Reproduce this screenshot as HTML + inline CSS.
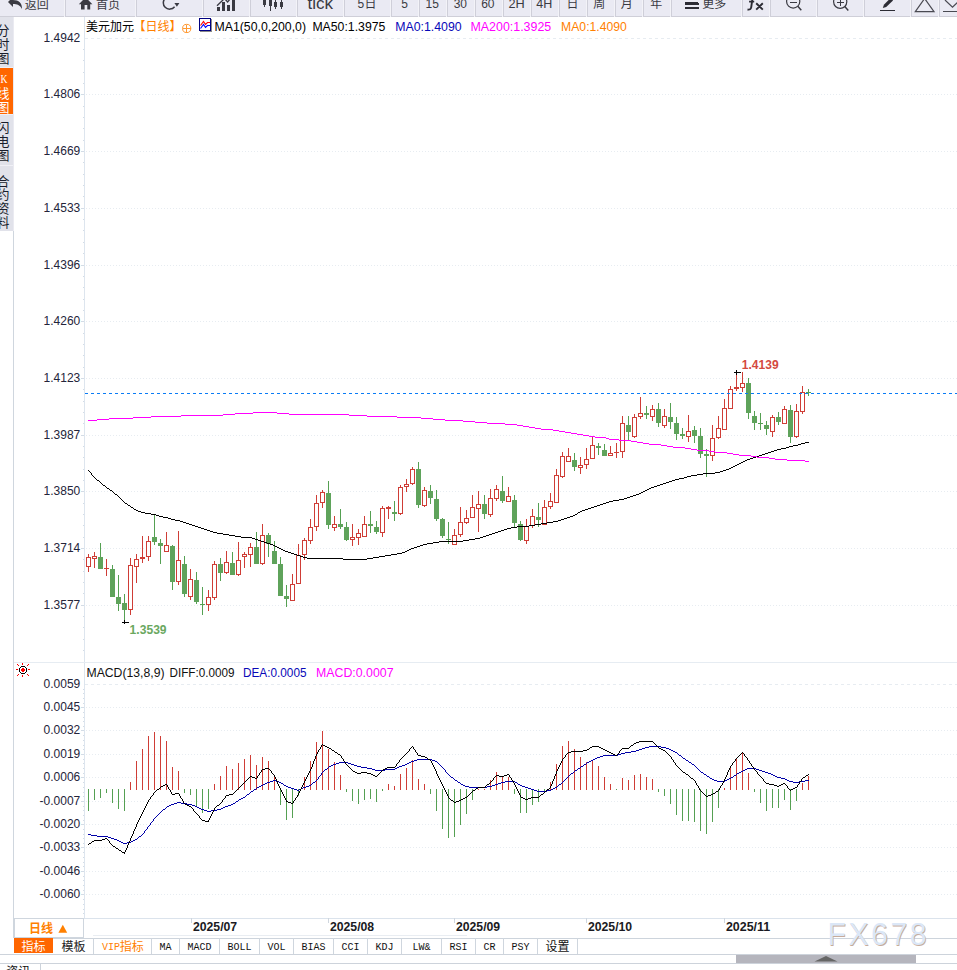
<!DOCTYPE html>
<html><head><meta charset="utf-8"><title>chart</title>
<style>
html,body{margin:0;padding:0;background:#fff;}
body{width:957px;height:970px;overflow:hidden;font-family:"Liberation Sans",sans-serif;}
svg{display:block;position:absolute;left:0;top:0;}
rect,line{shape-rendering:crispEdges;}
text{white-space:pre;}
</style></head><body>
<svg width="957" height="970" viewBox="0 0 957 970">
<rect x="13" y="16" width="1" height="922" fill="#cfd6de" />
<rect x="84" y="16" width="1" height="902" fill="#dde5ee" />
<line x1="85" x2="957" y1="38.5" y2="38.5" stroke="#e7ecf1" stroke-width="1" stroke-dasharray="3 3" stroke-dashoffset="0"/>
<line x1="85" x2="957" y1="94.5" y2="94.5" stroke="#e7ecf1" stroke-width="1" stroke-dasharray="1 2" stroke-dashoffset="2"/>
<line x1="85" x2="957" y1="151.5" y2="151.5" stroke="#e7ecf1" stroke-width="1" stroke-dasharray="1 2" stroke-dashoffset="2"/>
<line x1="85" x2="957" y1="208.5" y2="208.5" stroke="#e7ecf1" stroke-width="1" stroke-dasharray="1 2" stroke-dashoffset="2"/>
<line x1="85" x2="957" y1="265.5" y2="265.5" stroke="#e7ecf1" stroke-width="1" stroke-dasharray="1 2" stroke-dashoffset="2"/>
<line x1="85" x2="957" y1="321.5" y2="321.5" stroke="#e7ecf1" stroke-width="1" stroke-dasharray="1 2" stroke-dashoffset="2"/>
<line x1="85" x2="957" y1="378.5" y2="378.5" stroke="#e7ecf1" stroke-width="1" stroke-dasharray="1 2" stroke-dashoffset="2"/>
<line x1="85" x2="957" y1="435.5" y2="435.5" stroke="#e7ecf1" stroke-width="1" stroke-dasharray="1 2" stroke-dashoffset="2"/>
<line x1="85" x2="957" y1="491.5" y2="491.5" stroke="#e7ecf1" stroke-width="1" stroke-dasharray="1 2" stroke-dashoffset="2"/>
<line x1="85" x2="957" y1="548.5" y2="548.5" stroke="#e7ecf1" stroke-width="1" stroke-dasharray="1 2" stroke-dashoffset="2"/>
<line x1="85" x2="957" y1="605.5" y2="605.5" stroke="#e7ecf1" stroke-width="1" stroke-dasharray="1 2" stroke-dashoffset="2"/>
<rect x="83" y="49" width="1" height="1" fill="#d3dce6" />
<rect x="83" y="60" width="1" height="1" fill="#d3dce6" />
<rect x="83" y="72" width="1" height="1" fill="#d3dce6" />
<rect x="83" y="83" width="1" height="1" fill="#d3dce6" />
<rect x="81" y="94" width="3" height="1" fill="#d3dce6" />
<rect x="83" y="106" width="1" height="1" fill="#d3dce6" />
<rect x="83" y="117" width="1" height="1" fill="#d3dce6" />
<rect x="83" y="128" width="1" height="1" fill="#d3dce6" />
<rect x="83" y="140" width="1" height="1" fill="#d3dce6" />
<rect x="81" y="151" width="3" height="1" fill="#d3dce6" />
<rect x="83" y="162" width="1" height="1" fill="#d3dce6" />
<rect x="83" y="174" width="1" height="1" fill="#d3dce6" />
<rect x="83" y="185" width="1" height="1" fill="#d3dce6" />
<rect x="83" y="196" width="1" height="1" fill="#d3dce6" />
<rect x="81" y="208" width="3" height="1" fill="#d3dce6" />
<rect x="83" y="219" width="1" height="1" fill="#d3dce6" />
<rect x="83" y="230" width="1" height="1" fill="#d3dce6" />
<rect x="83" y="242" width="1" height="1" fill="#d3dce6" />
<rect x="83" y="253" width="1" height="1" fill="#d3dce6" />
<rect x="81" y="265" width="3" height="1" fill="#d3dce6" />
<rect x="83" y="276" width="1" height="1" fill="#d3dce6" />
<rect x="83" y="287" width="1" height="1" fill="#d3dce6" />
<rect x="83" y="299" width="1" height="1" fill="#d3dce6" />
<rect x="83" y="310" width="1" height="1" fill="#d3dce6" />
<rect x="81" y="321" width="3" height="1" fill="#d3dce6" />
<rect x="83" y="333" width="1" height="1" fill="#d3dce6" />
<rect x="83" y="344" width="1" height="1" fill="#d3dce6" />
<rect x="83" y="355" width="1" height="1" fill="#d3dce6" />
<rect x="83" y="367" width="1" height="1" fill="#d3dce6" />
<rect x="81" y="378" width="3" height="1" fill="#d3dce6" />
<rect x="83" y="389" width="1" height="1" fill="#d3dce6" />
<rect x="83" y="401" width="1" height="1" fill="#d3dce6" />
<rect x="83" y="412" width="1" height="1" fill="#d3dce6" />
<rect x="83" y="423" width="1" height="1" fill="#d3dce6" />
<rect x="81" y="435" width="3" height="1" fill="#d3dce6" />
<rect x="83" y="446" width="1" height="1" fill="#d3dce6" />
<rect x="83" y="457" width="1" height="1" fill="#d3dce6" />
<rect x="83" y="469" width="1" height="1" fill="#d3dce6" />
<rect x="83" y="480" width="1" height="1" fill="#d3dce6" />
<rect x="81" y="491" width="3" height="1" fill="#d3dce6" />
<rect x="83" y="503" width="1" height="1" fill="#d3dce6" />
<rect x="83" y="514" width="1" height="1" fill="#d3dce6" />
<rect x="83" y="525" width="1" height="1" fill="#d3dce6" />
<rect x="83" y="537" width="1" height="1" fill="#d3dce6" />
<rect x="81" y="548" width="3" height="1" fill="#d3dce6" />
<rect x="83" y="559" width="1" height="1" fill="#d3dce6" />
<rect x="83" y="571" width="1" height="1" fill="#d3dce6" />
<rect x="83" y="582" width="1" height="1" fill="#d3dce6" />
<rect x="83" y="593" width="1" height="1" fill="#d3dce6" />
<rect x="81" y="605" width="3" height="1" fill="#d3dce6" />
<rect x="83" y="616" width="1" height="1" fill="#d3dce6" />
<rect x="83" y="627" width="1" height="1" fill="#d3dce6" />
<rect x="83" y="639" width="1" height="1" fill="#d3dce6" />
<rect x="83" y="650" width="1" height="1" fill="#d3dce6" />
<text x="80.3" y="41.8" font-family="Liberation Sans" font-size="12" fill="#24243a" text-anchor="end" font-weight="normal" >1.4942</text>
<text x="80.3" y="97.8" font-family="Liberation Sans" font-size="12" fill="#24243a" text-anchor="end" font-weight="normal" >1.4806</text>
<text x="80.3" y="154.8" font-family="Liberation Sans" font-size="12" fill="#24243a" text-anchor="end" font-weight="normal" >1.4669</text>
<text x="80.3" y="211.8" font-family="Liberation Sans" font-size="12" fill="#24243a" text-anchor="end" font-weight="normal" >1.4533</text>
<text x="80.3" y="268.8" font-family="Liberation Sans" font-size="12" fill="#24243a" text-anchor="end" font-weight="normal" >1.4396</text>
<text x="80.3" y="324.8" font-family="Liberation Sans" font-size="12" fill="#24243a" text-anchor="end" font-weight="normal" >1.4260</text>
<text x="80.3" y="381.8" font-family="Liberation Sans" font-size="12" fill="#24243a" text-anchor="end" font-weight="normal" >1.4123</text>
<text x="80.3" y="438.8" font-family="Liberation Sans" font-size="12" fill="#24243a" text-anchor="end" font-weight="normal" >1.3987</text>
<text x="80.3" y="494.8" font-family="Liberation Sans" font-size="12" fill="#24243a" text-anchor="end" font-weight="normal" >1.3850</text>
<text x="80.3" y="551.8" font-family="Liberation Sans" font-size="12" fill="#24243a" text-anchor="end" font-weight="normal" >1.3714</text>
<text x="80.3" y="608.8" font-family="Liberation Sans" font-size="12" fill="#24243a" text-anchor="end" font-weight="normal" >1.3577</text>
<rect x="14" y="662" width="943" height="1" fill="#e6ecf2" />
<line x1="85" x2="957" y1="684.5" y2="684.5" stroke="#e7ecf1" stroke-width="1" stroke-dasharray="3 3" stroke-dashoffset="0"/>
<text x="80.3" y="687.8" font-family="Liberation Sans" font-size="12" fill="#24243a" text-anchor="end" font-weight="normal" >0.0059</text>
<line x1="85" x2="957" y1="707.5" y2="707.5" stroke="#e7ecf1" stroke-width="1" stroke-dasharray="1 2" stroke-dashoffset="2"/>
<rect x="81" y="707" width="3" height="1" fill="#d3dce6" />
<text x="80.3" y="710.8" font-family="Liberation Sans" font-size="12" fill="#24243a" text-anchor="end" font-weight="normal" >0.0045</text>
<line x1="85" x2="957" y1="730.5" y2="730.5" stroke="#e7ecf1" stroke-width="1" stroke-dasharray="1 2" stroke-dashoffset="2"/>
<rect x="81" y="730" width="3" height="1" fill="#d3dce6" />
<text x="80.3" y="733.8" font-family="Liberation Sans" font-size="12" fill="#24243a" text-anchor="end" font-weight="normal" >0.0032</text>
<line x1="85" x2="957" y1="754.5" y2="754.5" stroke="#e7ecf1" stroke-width="1" stroke-dasharray="1 2" stroke-dashoffset="2"/>
<rect x="81" y="754" width="3" height="1" fill="#d3dce6" />
<text x="80.3" y="757.8" font-family="Liberation Sans" font-size="12" fill="#24243a" text-anchor="end" font-weight="normal" >0.0019</text>
<line x1="85" x2="957" y1="777.5" y2="777.5" stroke="#e7ecf1" stroke-width="1" stroke-dasharray="1 2" stroke-dashoffset="2"/>
<rect x="81" y="777" width="3" height="1" fill="#d3dce6" />
<text x="80.3" y="780.8" font-family="Liberation Sans" font-size="12" fill="#24243a" text-anchor="end" font-weight="normal" >0.0006</text>
<line x1="85" x2="957" y1="801.5" y2="801.5" stroke="#e7ecf1" stroke-width="1" stroke-dasharray="1 2" stroke-dashoffset="2"/>
<rect x="81" y="801" width="3" height="1" fill="#d3dce6" />
<text x="80.3" y="804.8" font-family="Liberation Sans" font-size="12" fill="#24243a" text-anchor="end" font-weight="normal" >-0.0007</text>
<line x1="85" x2="957" y1="824.5" y2="824.5" stroke="#e7ecf1" stroke-width="1" stroke-dasharray="1 2" stroke-dashoffset="2"/>
<rect x="81" y="824" width="3" height="1" fill="#d3dce6" />
<text x="80.3" y="827.8" font-family="Liberation Sans" font-size="12" fill="#24243a" text-anchor="end" font-weight="normal" >-0.0020</text>
<line x1="85" x2="957" y1="847.5" y2="847.5" stroke="#e7ecf1" stroke-width="1" stroke-dasharray="1 2" stroke-dashoffset="2"/>
<rect x="81" y="847" width="3" height="1" fill="#d3dce6" />
<text x="80.3" y="850.8" font-family="Liberation Sans" font-size="12" fill="#24243a" text-anchor="end" font-weight="normal" >-0.0033</text>
<line x1="85" x2="957" y1="871.5" y2="871.5" stroke="#e7ecf1" stroke-width="1" stroke-dasharray="1 2" stroke-dashoffset="2"/>
<rect x="81" y="871" width="3" height="1" fill="#d3dce6" />
<text x="80.3" y="874.8" font-family="Liberation Sans" font-size="12" fill="#24243a" text-anchor="end" font-weight="normal" >-0.0046</text>
<line x1="85" x2="957" y1="894.5" y2="894.5" stroke="#e7ecf1" stroke-width="1" stroke-dasharray="1 2" stroke-dashoffset="2"/>
<rect x="81" y="894" width="3" height="1" fill="#d3dce6" />
<text x="80.3" y="897.8" font-family="Liberation Sans" font-size="12" fill="#24243a" text-anchor="end" font-weight="normal" >-0.0060</text>
<rect x="83" y="689" width="1" height="1" fill="#d3dce6" />
<rect x="83" y="693" width="1" height="1" fill="#d3dce6" />
<rect x="83" y="698" width="1" height="1" fill="#d3dce6" />
<rect x="83" y="703" width="1" height="1" fill="#d3dce6" />
<rect x="83" y="712" width="1" height="1" fill="#d3dce6" />
<rect x="83" y="717" width="1" height="1" fill="#d3dce6" />
<rect x="83" y="721" width="1" height="1" fill="#d3dce6" />
<rect x="83" y="726" width="1" height="1" fill="#d3dce6" />
<rect x="83" y="735" width="1" height="1" fill="#d3dce6" />
<rect x="83" y="740" width="1" height="1" fill="#d3dce6" />
<rect x="83" y="745" width="1" height="1" fill="#d3dce6" />
<rect x="83" y="749" width="1" height="1" fill="#d3dce6" />
<rect x="83" y="759" width="1" height="1" fill="#d3dce6" />
<rect x="83" y="763" width="1" height="1" fill="#d3dce6" />
<rect x="83" y="768" width="1" height="1" fill="#d3dce6" />
<rect x="83" y="773" width="1" height="1" fill="#d3dce6" />
<rect x="83" y="782" width="1" height="1" fill="#d3dce6" />
<rect x="83" y="787" width="1" height="1" fill="#d3dce6" />
<rect x="83" y="792" width="1" height="1" fill="#d3dce6" />
<rect x="83" y="796" width="1" height="1" fill="#d3dce6" />
<rect x="83" y="806" width="1" height="1" fill="#d3dce6" />
<rect x="83" y="810" width="1" height="1" fill="#d3dce6" />
<rect x="83" y="815" width="1" height="1" fill="#d3dce6" />
<rect x="83" y="820" width="1" height="1" fill="#d3dce6" />
<rect x="83" y="829" width="1" height="1" fill="#d3dce6" />
<rect x="83" y="834" width="1" height="1" fill="#d3dce6" />
<rect x="83" y="838" width="1" height="1" fill="#d3dce6" />
<rect x="83" y="843" width="1" height="1" fill="#d3dce6" />
<rect x="83" y="852" width="1" height="1" fill="#d3dce6" />
<rect x="83" y="857" width="1" height="1" fill="#d3dce6" />
<rect x="83" y="862" width="1" height="1" fill="#d3dce6" />
<rect x="83" y="866" width="1" height="1" fill="#d3dce6" />
<rect x="83" y="876" width="1" height="1" fill="#d3dce6" />
<rect x="83" y="880" width="1" height="1" fill="#d3dce6" />
<rect x="83" y="885" width="1" height="1" fill="#d3dce6" />
<rect x="83" y="890" width="1" height="1" fill="#d3dce6" />
<rect x="83" y="899" width="1" height="1" fill="#d3dce6" />
<rect x="83" y="904" width="1" height="1" fill="#d3dce6" />
<rect x="83" y="909" width="1" height="1" fill="#d3dce6" />
<rect x="83" y="913" width="1" height="1" fill="#d3dce6" />
<rect x="88" y="554" width="1" height="3" fill="#cf3d36" />
<rect x="88" y="567" width="1" height="5" fill="#cf3d36" />
<rect x="86.5" y="557.5" width="4" height="9" fill="#fff" stroke="#cf3d36" stroke-width="1"/>
<rect x="94" y="552" width="1" height="4" fill="#cf3d36" />
<rect x="94" y="559" width="1" height="9" fill="#cf3d36" />
<rect x="92.5" y="556.5" width="4" height="2" fill="#fff" stroke="#cf3d36" stroke-width="1"/>
<rect x="100" y="543" width="1" height="26" fill="#55a052" />
<rect x="98" y="557" width="5" height="12" fill="#5fa35b" />
<rect x="106" y="559" width="1" height="17" fill="#cf3d36" />
<rect x="104" y="568" width="5" height="1" fill="#cf3d36" />
<rect x="112" y="565" width="1" height="32" fill="#55a052" />
<rect x="110" y="569" width="5" height="28" fill="#5fa35b" />
<rect x="118" y="575" width="1" height="36" fill="#55a052" />
<rect x="116" y="597" width="5" height="7" fill="#5fa35b" />
<rect x="124" y="594" width="1" height="28" fill="#55a052" />
<rect x="122" y="603" width="5" height="7" fill="#5fa35b" />
<rect x="130" y="558" width="1" height="7" fill="#cf3d36" />
<rect x="130" y="610" width="1" height="5" fill="#cf3d36" />
<rect x="128.5" y="565.5" width="4" height="44" fill="#fff" stroke="#cf3d36" stroke-width="1"/>
<rect x="136" y="554" width="1" height="5" fill="#cf3d36" />
<rect x="136" y="567" width="1" height="16" fill="#cf3d36" />
<rect x="134.5" y="559.5" width="4" height="7" fill="#fff" stroke="#cf3d36" stroke-width="1"/>
<rect x="142" y="536" width="1" height="27" fill="#cf3d36" />
<rect x="140" y="557" width="5" height="2" fill="#cf3d36" />
<rect x="148" y="536" width="1" height="5" fill="#cf3d36" />
<rect x="148" y="557" width="1" height="4" fill="#cf3d36" />
<rect x="146.5" y="541.5" width="4" height="15" fill="#fff" stroke="#cf3d36" stroke-width="1"/>
<rect x="154" y="514" width="1" height="31" fill="#55a052" />
<rect x="152" y="537" width="5" height="5" fill="#5fa35b" />
<rect x="160" y="539" width="1" height="25" fill="#55a052" />
<rect x="158" y="543" width="5" height="3" fill="#5fa35b" />
<rect x="166" y="532" width="1" height="13" fill="#cf3d36" />
<rect x="164.5" y="545.5" width="4" height="6" fill="#fff" stroke="#cf3d36" stroke-width="1"/>
<rect x="172" y="545" width="1" height="45" fill="#55a052" />
<rect x="170" y="546" width="5" height="36" fill="#5fa35b" />
<rect x="178" y="531" width="1" height="29" fill="#cf3d36" />
<rect x="178" y="582" width="1" height="3" fill="#cf3d36" />
<rect x="176.5" y="560.5" width="4" height="21" fill="#fff" stroke="#cf3d36" stroke-width="1"/>
<rect x="184" y="556" width="1" height="41" fill="#55a052" />
<rect x="182" y="564" width="5" height="30" fill="#5fa35b" />
<rect x="190" y="569" width="1" height="10" fill="#cf3d36" />
<rect x="190" y="597" width="1" height="3" fill="#cf3d36" />
<rect x="188.5" y="579.5" width="4" height="17" fill="#fff" stroke="#cf3d36" stroke-width="1"/>
<rect x="196" y="572" width="1" height="32" fill="#55a052" />
<rect x="194" y="580" width="5" height="22" fill="#5fa35b" />
<rect x="202" y="587" width="1" height="28" fill="#55a052" />
<rect x="200" y="604" width="5" height="1" fill="#55a052" />
<rect x="208" y="590" width="1" height="7" fill="#cf3d36" />
<rect x="208" y="605" width="1" height="6" fill="#cf3d36" />
<rect x="206.5" y="597.5" width="4" height="7" fill="#fff" stroke="#cf3d36" stroke-width="1"/>
<rect x="214" y="561" width="1" height="3" fill="#cf3d36" />
<rect x="214" y="598" width="1" height="2" fill="#cf3d36" />
<rect x="212.5" y="564.5" width="4" height="33" fill="#fff" stroke="#cf3d36" stroke-width="1"/>
<rect x="220" y="558" width="1" height="23" fill="#55a052" />
<rect x="218" y="564" width="5" height="9" fill="#5fa35b" />
<rect x="226" y="551" width="1" height="11" fill="#cf3d36" />
<rect x="226" y="573" width="1" height="1" fill="#cf3d36" />
<rect x="224.5" y="562.5" width="4" height="10" fill="#fff" stroke="#cf3d36" stroke-width="1"/>
<rect x="232" y="552" width="1" height="23" fill="#55a052" />
<rect x="230" y="563" width="5" height="12" fill="#5fa35b" />
<rect x="238" y="542" width="1" height="18" fill="#cf3d36" />
<rect x="238" y="575" width="1" height="1" fill="#cf3d36" />
<rect x="236.5" y="560.5" width="4" height="14" fill="#fff" stroke="#cf3d36" stroke-width="1"/>
<rect x="244" y="552" width="1" height="2" fill="#cf3d36" />
<rect x="244" y="557" width="1" height="11" fill="#cf3d36" />
<rect x="242.5" y="554.5" width="4" height="2" fill="#fff" stroke="#cf3d36" stroke-width="1"/>
<rect x="250" y="543" width="1" height="4" fill="#cf3d36" />
<rect x="250" y="555" width="1" height="12" fill="#cf3d36" />
<rect x="248.5" y="547.5" width="4" height="7" fill="#fff" stroke="#cf3d36" stroke-width="1"/>
<rect x="256" y="532" width="1" height="32" fill="#55a052" />
<rect x="254" y="547" width="5" height="17" fill="#5fa35b" />
<rect x="262" y="524" width="1" height="11" fill="#cf3d36" />
<rect x="262" y="564" width="1" height="1" fill="#cf3d36" />
<rect x="260.5" y="535.5" width="4" height="28" fill="#fff" stroke="#cf3d36" stroke-width="1"/>
<rect x="268" y="533" width="1" height="24" fill="#55a052" />
<rect x="266" y="535" width="5" height="9" fill="#5fa35b" />
<rect x="274" y="541" width="1" height="23" fill="#55a052" />
<rect x="272" y="551" width="5" height="13" fill="#5fa35b" />
<rect x="280" y="557" width="1" height="39" fill="#55a052" />
<rect x="278" y="564" width="5" height="32" fill="#5fa35b" />
<rect x="286" y="585" width="1" height="22" fill="#55a052" />
<rect x="284" y="596" width="5" height="3" fill="#5fa35b" />
<rect x="292" y="574" width="1" height="10" fill="#cf3d36" />
<rect x="290.5" y="584.5" width="4" height="16" fill="#fff" stroke="#cf3d36" stroke-width="1"/>
<rect x="298" y="544" width="1" height="11" fill="#cf3d36" />
<rect x="296.5" y="555.5" width="4" height="28" fill="#fff" stroke="#cf3d36" stroke-width="1"/>
<rect x="304" y="538" width="1" height="2" fill="#cf3d36" />
<rect x="304" y="555" width="1" height="5" fill="#cf3d36" />
<rect x="302.5" y="540.5" width="4" height="14" fill="#fff" stroke="#cf3d36" stroke-width="1"/>
<rect x="310" y="519" width="1" height="8" fill="#cf3d36" />
<rect x="310" y="541" width="1" height="3" fill="#cf3d36" />
<rect x="308.5" y="527.5" width="4" height="13" fill="#fff" stroke="#cf3d36" stroke-width="1"/>
<rect x="316" y="495" width="1" height="8" fill="#cf3d36" />
<rect x="316" y="527" width="1" height="4" fill="#cf3d36" />
<rect x="314.5" y="503.5" width="4" height="23" fill="#fff" stroke="#cf3d36" stroke-width="1"/>
<rect x="322" y="490" width="1" height="2" fill="#cf3d36" />
<rect x="322" y="503" width="1" height="5" fill="#cf3d36" />
<rect x="320.5" y="492.5" width="4" height="10" fill="#fff" stroke="#cf3d36" stroke-width="1"/>
<rect x="328" y="481" width="1" height="48" fill="#55a052" />
<rect x="326" y="493" width="5" height="32" fill="#5fa35b" />
<rect x="334" y="516" width="1" height="8" fill="#cf3d36" />
<rect x="334" y="528" width="1" height="3" fill="#cf3d36" />
<rect x="332.5" y="524.5" width="4" height="3" fill="#fff" stroke="#cf3d36" stroke-width="1"/>
<rect x="340" y="509" width="1" height="20" fill="#55a052" />
<rect x="338" y="524" width="5" height="3" fill="#5fa35b" />
<rect x="346" y="522" width="1" height="19" fill="#55a052" />
<rect x="344" y="527" width="5" height="13" fill="#5fa35b" />
<rect x="352" y="524" width="1" height="13" fill="#cf3d36" />
<rect x="352" y="540" width="1" height="6" fill="#cf3d36" />
<rect x="350.5" y="537.5" width="4" height="2" fill="#fff" stroke="#cf3d36" stroke-width="1"/>
<rect x="358" y="529" width="1" height="4" fill="#cf3d36" />
<rect x="358" y="538" width="1" height="7" fill="#cf3d36" />
<rect x="356.5" y="533.5" width="4" height="4" fill="#fff" stroke="#cf3d36" stroke-width="1"/>
<rect x="364" y="516" width="1" height="8" fill="#cf3d36" />
<rect x="362.5" y="524.5" width="4" height="12" fill="#fff" stroke="#cf3d36" stroke-width="1"/>
<rect x="370" y="511" width="1" height="22" fill="#55a052" />
<rect x="368" y="524" width="5" height="2" fill="#5fa35b" />
<rect x="376" y="521" width="1" height="13" fill="#55a052" />
<rect x="374" y="527" width="5" height="5" fill="#5fa35b" />
<rect x="382" y="506" width="1" height="2" fill="#cf3d36" />
<rect x="382" y="533" width="1" height="4" fill="#cf3d36" />
<rect x="380.5" y="508.5" width="4" height="24" fill="#fff" stroke="#cf3d36" stroke-width="1"/>
<rect x="388" y="506" width="1" height="13" fill="#cf3d36" />
<rect x="386" y="507" width="5" height="2" fill="#cf3d36" />
<rect x="394" y="501" width="1" height="20" fill="#55a052" />
<rect x="392" y="512" width="5" height="2" fill="#5fa35b" />
<rect x="400" y="485" width="1" height="2" fill="#cf3d36" />
<rect x="400" y="514" width="1" height="1" fill="#cf3d36" />
<rect x="398.5" y="487.5" width="4" height="26" fill="#fff" stroke="#cf3d36" stroke-width="1"/>
<rect x="406" y="479" width="1" height="5" fill="#cf3d36" />
<rect x="406" y="487" width="1" height="5" fill="#cf3d36" />
<rect x="404.5" y="484.5" width="4" height="2" fill="#fff" stroke="#cf3d36" stroke-width="1"/>
<rect x="412" y="467" width="1" height="2" fill="#cf3d36" />
<rect x="412" y="484" width="1" height="1" fill="#cf3d36" />
<rect x="410.5" y="469.5" width="4" height="14" fill="#fff" stroke="#cf3d36" stroke-width="1"/>
<rect x="418" y="462" width="1" height="46" fill="#55a052" />
<rect x="416" y="469" width="5" height="36" fill="#5fa35b" />
<rect x="424" y="487" width="1" height="3" fill="#cf3d36" />
<rect x="424" y="506" width="1" height="1" fill="#cf3d36" />
<rect x="422.5" y="490.5" width="4" height="15" fill="#fff" stroke="#cf3d36" stroke-width="1"/>
<rect x="430" y="485" width="1" height="19" fill="#55a052" />
<rect x="428" y="491" width="5" height="7" fill="#5fa35b" />
<rect x="436" y="490" width="1" height="31" fill="#55a052" />
<rect x="434" y="499" width="5" height="20" fill="#5fa35b" />
<rect x="442" y="518" width="1" height="20" fill="#55a052" />
<rect x="440" y="519" width="5" height="17" fill="#5fa35b" />
<rect x="448" y="522" width="1" height="22" fill="#55a052" />
<rect x="446" y="539" width="5" height="1" fill="#55a052" />
<rect x="454" y="529" width="1" height="6" fill="#cf3d36" />
<rect x="452.5" y="535.5" width="4" height="9" fill="#fff" stroke="#cf3d36" stroke-width="1"/>
<rect x="460" y="507" width="1" height="15" fill="#cf3d36" />
<rect x="460" y="535" width="1" height="2" fill="#cf3d36" />
<rect x="458.5" y="522.5" width="4" height="12" fill="#fff" stroke="#cf3d36" stroke-width="1"/>
<rect x="466" y="510" width="1" height="8" fill="#cf3d36" />
<rect x="466" y="523" width="1" height="1" fill="#cf3d36" />
<rect x="464.5" y="518.5" width="4" height="4" fill="#fff" stroke="#cf3d36" stroke-width="1"/>
<rect x="472" y="495" width="1" height="12" fill="#cf3d36" />
<rect x="470.5" y="507.5" width="4" height="10" fill="#fff" stroke="#cf3d36" stroke-width="1"/>
<rect x="478" y="491" width="1" height="13" fill="#cf3d36" />
<rect x="478" y="509" width="1" height="23" fill="#cf3d36" />
<rect x="476.5" y="504.5" width="4" height="4" fill="#fff" stroke="#cf3d36" stroke-width="1"/>
<rect x="484" y="495" width="1" height="24" fill="#55a052" />
<rect x="482" y="504" width="5" height="10" fill="#5fa35b" />
<rect x="490" y="489" width="1" height="9" fill="#cf3d36" />
<rect x="490" y="515" width="1" height="2" fill="#cf3d36" />
<rect x="488.5" y="498.5" width="4" height="16" fill="#fff" stroke="#cf3d36" stroke-width="1"/>
<rect x="496" y="485" width="1" height="4" fill="#cf3d36" />
<rect x="496" y="499" width="1" height="2" fill="#cf3d36" />
<rect x="494.5" y="489.5" width="4" height="9" fill="#fff" stroke="#cf3d36" stroke-width="1"/>
<rect x="502" y="476" width="1" height="27" fill="#55a052" />
<rect x="500" y="491" width="5" height="10" fill="#5fa35b" />
<rect x="508" y="487" width="1" height="9" fill="#cf3d36" />
<rect x="506.5" y="496.5" width="4" height="5" fill="#fff" stroke="#cf3d36" stroke-width="1"/>
<rect x="514" y="495" width="1" height="32" fill="#55a052" />
<rect x="512" y="500" width="5" height="23" fill="#5fa35b" />
<rect x="520" y="521" width="1" height="20" fill="#55a052" />
<rect x="518" y="524" width="5" height="16" fill="#5fa35b" />
<rect x="526" y="519" width="1" height="7" fill="#cf3d36" />
<rect x="526" y="541" width="1" height="3" fill="#cf3d36" />
<rect x="524.5" y="526.5" width="4" height="14" fill="#fff" stroke="#cf3d36" stroke-width="1"/>
<rect x="532" y="509" width="1" height="7" fill="#cf3d36" />
<rect x="532" y="526" width="1" height="2" fill="#cf3d36" />
<rect x="530.5" y="516.5" width="4" height="9" fill="#fff" stroke="#cf3d36" stroke-width="1"/>
<rect x="538" y="503" width="1" height="24" fill="#55a052" />
<rect x="536" y="517" width="5" height="3" fill="#5fa35b" />
<rect x="544" y="500" width="1" height="7" fill="#cf3d36" />
<rect x="542.5" y="507.5" width="4" height="17" fill="#fff" stroke="#cf3d36" stroke-width="1"/>
<rect x="550" y="493" width="1" height="8" fill="#cf3d36" />
<rect x="550" y="507" width="1" height="2" fill="#cf3d36" />
<rect x="548.5" y="501.5" width="4" height="5" fill="#fff" stroke="#cf3d36" stroke-width="1"/>
<rect x="556" y="469" width="1" height="6" fill="#cf3d36" />
<rect x="554.5" y="475.5" width="4" height="27" fill="#fff" stroke="#cf3d36" stroke-width="1"/>
<rect x="562" y="452" width="1" height="4" fill="#cf3d36" />
<rect x="562" y="477" width="1" height="1" fill="#cf3d36" />
<rect x="560.5" y="456.5" width="4" height="20" fill="#fff" stroke="#cf3d36" stroke-width="1"/>
<rect x="568" y="448" width="1" height="8" fill="#cf3d36" />
<rect x="566.5" y="456.5" width="4" height="5" fill="#fff" stroke="#cf3d36" stroke-width="1"/>
<rect x="574" y="453" width="1" height="18" fill="#55a052" />
<rect x="572" y="460" width="5" height="7" fill="#5fa35b" />
<rect x="580" y="457" width="1" height="8" fill="#cf3d36" />
<rect x="580" y="468" width="1" height="6" fill="#cf3d36" />
<rect x="578.5" y="465.5" width="4" height="2" fill="#fff" stroke="#cf3d36" stroke-width="1"/>
<rect x="586" y="448" width="1" height="11" fill="#cf3d36" />
<rect x="586" y="465" width="1" height="4" fill="#cf3d36" />
<rect x="584.5" y="459.5" width="4" height="5" fill="#fff" stroke="#cf3d36" stroke-width="1"/>
<rect x="592" y="437" width="1" height="8" fill="#cf3d36" />
<rect x="590.5" y="445.5" width="4" height="13" fill="#fff" stroke="#cf3d36" stroke-width="1"/>
<rect x="598" y="443" width="1" height="12" fill="#55a052" />
<rect x="596" y="446" width="5" height="2" fill="#5fa35b" />
<rect x="604" y="444" width="1" height="12" fill="#55a052" />
<rect x="602" y="450" width="5" height="6" fill="#5fa35b" />
<rect x="610" y="446" width="1" height="7" fill="#cf3d36" />
<rect x="608.5" y="453.5" width="4" height="2" fill="#fff" stroke="#cf3d36" stroke-width="1"/>
<rect x="616" y="443" width="1" height="15" fill="#cf3d36" />
<rect x="614" y="452" width="5" height="1" fill="#cf3d36" />
<rect x="622" y="416" width="1" height="7" fill="#cf3d36" />
<rect x="622" y="452" width="1" height="6" fill="#cf3d36" />
<rect x="620.5" y="423.5" width="4" height="28" fill="#fff" stroke="#cf3d36" stroke-width="1"/>
<rect x="628" y="416" width="1" height="24" fill="#55a052" />
<rect x="626" y="425" width="5" height="7" fill="#5fa35b" />
<rect x="634" y="414" width="1" height="3" fill="#cf3d36" />
<rect x="634" y="437" width="1" height="1" fill="#cf3d36" />
<rect x="632.5" y="417.5" width="4" height="19" fill="#fff" stroke="#cf3d36" stroke-width="1"/>
<rect x="640" y="397" width="1" height="16" fill="#cf3d36" />
<rect x="640" y="417" width="1" height="2" fill="#cf3d36" />
<rect x="638.5" y="413.5" width="4" height="3" fill="#fff" stroke="#cf3d36" stroke-width="1"/>
<rect x="646" y="406" width="1" height="13" fill="#55a052" />
<rect x="644" y="413" width="5" height="2" fill="#5fa35b" />
<rect x="652" y="405" width="1" height="4" fill="#cf3d36" />
<rect x="652" y="417" width="1" height="4" fill="#cf3d36" />
<rect x="650.5" y="409.5" width="4" height="7" fill="#fff" stroke="#cf3d36" stroke-width="1"/>
<rect x="658" y="403" width="1" height="24" fill="#55a052" />
<rect x="656" y="409" width="5" height="14" fill="#5fa35b" />
<rect x="664" y="409" width="1" height="7" fill="#cf3d36" />
<rect x="664" y="426" width="1" height="2" fill="#cf3d36" />
<rect x="662.5" y="416.5" width="4" height="9" fill="#fff" stroke="#cf3d36" stroke-width="1"/>
<rect x="670" y="403" width="1" height="26" fill="#55a052" />
<rect x="668" y="417" width="5" height="5" fill="#5fa35b" />
<rect x="676" y="417" width="1" height="23" fill="#55a052" />
<rect x="674" y="423" width="5" height="11" fill="#5fa35b" />
<rect x="682" y="428" width="1" height="11" fill="#55a052" />
<rect x="680" y="434" width="5" height="2" fill="#5fa35b" />
<rect x="688" y="415" width="1" height="16" fill="#cf3d36" />
<rect x="688" y="437" width="1" height="5" fill="#cf3d36" />
<rect x="686.5" y="431.5" width="4" height="5" fill="#fff" stroke="#cf3d36" stroke-width="1"/>
<rect x="694" y="426" width="1" height="17" fill="#55a052" />
<rect x="692" y="430" width="5" height="6" fill="#5fa35b" />
<rect x="700" y="428" width="1" height="30" fill="#55a052" />
<rect x="698" y="436" width="5" height="18" fill="#5fa35b" />
<rect x="706" y="449" width="1" height="28" fill="#55a052" />
<rect x="704" y="454" width="5" height="2" fill="#5fa35b" />
<rect x="712" y="425" width="1" height="13" fill="#cf3d36" />
<rect x="712" y="456" width="1" height="5" fill="#cf3d36" />
<rect x="710.5" y="438.5" width="4" height="17" fill="#fff" stroke="#cf3d36" stroke-width="1"/>
<rect x="718" y="416" width="1" height="12" fill="#cf3d36" />
<rect x="718" y="438" width="1" height="1" fill="#cf3d36" />
<rect x="716.5" y="428.5" width="4" height="9" fill="#fff" stroke="#cf3d36" stroke-width="1"/>
<rect x="724" y="399" width="1" height="9" fill="#cf3d36" />
<rect x="722.5" y="408.5" width="4" height="21" fill="#fff" stroke="#cf3d36" stroke-width="1"/>
<rect x="730" y="386" width="1" height="3" fill="#cf3d36" />
<rect x="728.5" y="389.5" width="4" height="19" fill="#fff" stroke="#cf3d36" stroke-width="1"/>
<rect x="736" y="370" width="1" height="21" fill="#cf3d36" />
<rect x="734" y="387" width="5" height="2" fill="#cf3d36" />
<rect x="742" y="372" width="1" height="11" fill="#cf3d36" />
<rect x="742" y="388" width="1" height="4" fill="#cf3d36" />
<rect x="740.5" y="383.5" width="4" height="4" fill="#fff" stroke="#cf3d36" stroke-width="1"/>
<rect x="748" y="378" width="1" height="41" fill="#55a052" />
<rect x="746" y="383" width="5" height="30" fill="#5fa35b" />
<rect x="754" y="411" width="1" height="19" fill="#55a052" />
<rect x="752" y="416" width="5" height="7" fill="#5fa35b" />
<rect x="760" y="413" width="1" height="17" fill="#55a052" />
<rect x="758" y="423" width="5" height="1" fill="#55a052" />
<rect x="766" y="421" width="1" height="14" fill="#55a052" />
<rect x="764" y="425" width="5" height="4" fill="#5fa35b" />
<rect x="772" y="415" width="1" height="2" fill="#cf3d36" />
<rect x="772" y="432" width="1" height="5" fill="#cf3d36" />
<rect x="770.5" y="417.5" width="4" height="14" fill="#fff" stroke="#cf3d36" stroke-width="1"/>
<rect x="778" y="412" width="1" height="13" fill="#55a052" />
<rect x="776" y="417" width="5" height="5" fill="#5fa35b" />
<rect x="784" y="406" width="1" height="3" fill="#cf3d36" />
<rect x="782.5" y="409.5" width="4" height="14" fill="#fff" stroke="#cf3d36" stroke-width="1"/>
<rect x="790" y="405" width="1" height="38" fill="#55a052" />
<rect x="788" y="410" width="5" height="27" fill="#5fa35b" />
<rect x="796" y="404" width="1" height="7" fill="#cf3d36" />
<rect x="796" y="437" width="1" height="1" fill="#cf3d36" />
<rect x="794.5" y="411.5" width="4" height="25" fill="#fff" stroke="#cf3d36" stroke-width="1"/>
<rect x="802" y="386" width="1" height="6" fill="#cf3d36" />
<rect x="802" y="412" width="1" height="2" fill="#cf3d36" />
<rect x="800.5" y="392.5" width="4" height="19" fill="#fff" stroke="#cf3d36" stroke-width="1"/>
<rect x="808" y="389" width="1" height="7" fill="#55a052" />
<rect x="806" y="392" width="5" height="1" fill="#55a052" />
<path d="M805 442h4v1h-4zM801 443h4v1h-4zM798 444h3v1h-3zM793 445h5v1h-5zM789 446h4v1h-4zM786 447h3v1h-3zM781 448h5v1h-5zM777 449h4v1h-4zM774 450h3v1h-3zM771 451h3v1h-3zM768 452h3v1h-3zM765 453h3v1h-3zM762 454h3v1h-3zM759 455h3v1h-3zM756 456h3v1h-3zM753 457h3v1h-3zM750 458h3v1h-3zM747 459h3v1h-3zM745 460h2v1h-2zM743 461h2v1h-2zM741 462h2v1h-2zM739 463h2v1h-2zM737 464h2v1h-2zM735 465h2v1h-2zM733 466h2v1h-2zM731 467h2v1h-2zM729 468h2v1h-2zM726 469h3v1h-3zM88 470h1v1h-1zM723 470h3v1h-3zM89 471h1v1h-1zM720 471h3v1h-3zM90 472h1v1h-1zM715 472h5v1h-5zM91 473h1v1h-1zM703 473h12v1h-12zM91 474h1v1h-1zM697 474h6v1h-6zM92 475h1v1h-1zM691 475h6v1h-6zM93 476h1v1h-1zM687 476h4v1h-4zM94 477h1v1h-1zM684 477h3v1h-3zM95 478h1v1h-1zM679 478h5v1h-5zM96 479h1v1h-1zM675 479h4v1h-4zM97 480h2v1h-2zM672 480h3v1h-3zM99 481h1v1h-1zM669 481h3v1h-3zM100 482h1v1h-1zM666 482h3v1h-3zM101 483h1v1h-1zM663 483h3v1h-3zM102 484h1v1h-1zM660 484h3v1h-3zM103 485h2v1h-2zM657 485h3v1h-3zM105 486h1v1h-1zM654 486h3v1h-3zM106 487h1v1h-1zM651 487h3v1h-3zM107 488h2v1h-2zM649 488h2v1h-2zM109 489h1v1h-1zM647 489h2v1h-2zM110 490h2v1h-2zM645 490h2v1h-2zM112 491h1v1h-1zM643 491h2v1h-2zM113 492h1v1h-1zM641 492h2v1h-2zM114 493h1v1h-1zM639 493h2v1h-2zM115 494h2v1h-2zM636 494h3v1h-3zM117 495h1v1h-1zM633 495h3v1h-3zM118 496h1v1h-1zM630 496h3v1h-3zM119 497h1v1h-1zM627 497h3v1h-3zM120 498h1v1h-1zM624 498h3v1h-3zM121 499h1v1h-1zM619 499h5v1h-5zM122 500h1v1h-1zM613 500h6v1h-6zM123 501h1v1h-1zM609 501h4v1h-4zM124 502h1v1h-1zM606 502h3v1h-3zM125 503h2v1h-2zM603 503h3v1h-3zM127 504h1v1h-1zM600 504h3v1h-3zM128 505h2v1h-2zM597 505h3v1h-3zM130 506h1v1h-1zM594 506h3v1h-3zM131 507h2v1h-2zM591 507h3v1h-3zM133 508h1v1h-1zM588 508h3v1h-3zM134 509h2v1h-2zM585 509h3v1h-3zM136 510h2v1h-2zM582 510h3v1h-3zM138 511h3v1h-3zM580 511h2v1h-2zM141 512h4v1h-4zM578 512h2v1h-2zM145 513h6v1h-6zM577 513h1v1h-1zM151 514h5v1h-5zM575 514h2v1h-2zM156 515h3v1h-3zM573 515h2v1h-2zM159 516h4v1h-4zM570 516h3v1h-3zM163 517h5v1h-5zM567 517h3v1h-3zM168 518h3v1h-3zM564 518h3v1h-3zM171 519h4v1h-4zM561 519h3v1h-3zM175 520h5v1h-5zM558 520h3v1h-3zM180 521h3v1h-3zM553 521h5v1h-5zM183 522h3v1h-3zM547 522h6v1h-6zM186 523h3v1h-3zM541 523h6v1h-6zM189 524h3v1h-3zM535 524h6v1h-6zM192 525h3v1h-3zM529 525h6v1h-6zM195 526h3v1h-3zM517 526h12v1h-12zM198 527h3v1h-3zM511 527h6v1h-6zM201 528h3v1h-3zM507 528h4v1h-4zM204 529h3v1h-3zM504 529h3v1h-3zM207 530h3v1h-3zM501 530h3v1h-3zM210 531h3v1h-3zM498 531h3v1h-3zM213 532h4v1h-4zM495 532h3v1h-3zM217 533h6v1h-6zM492 533h3v1h-3zM223 534h6v1h-6zM489 534h3v1h-3zM229 535h6v1h-6zM486 535h3v1h-3zM235 536h6v1h-6zM483 536h3v1h-3zM241 537h11v1h-11zM480 537h3v1h-3zM252 538h3v1h-3zM475 538h5v1h-5zM255 539h3v1h-3zM469 539h6v1h-6zM258 540h3v1h-3zM463 540h6v1h-6zM261 541h3v1h-3zM439 541h24v1h-24zM264 542h3v1h-3zM433 542h6v1h-6zM267 543h3v1h-3zM427 543h6v1h-6zM270 544h3v1h-3zM423 544h4v1h-4zM273 545h2v1h-2zM420 545h3v1h-3zM275 546h2v1h-2zM417 546h3v1h-3zM277 547h2v1h-2zM414 547h3v1h-3zM279 548h2v1h-2zM411 548h3v1h-3zM281 549h2v1h-2zM409 549h2v1h-2zM283 550h2v1h-2zM407 550h2v1h-2zM285 551h3v1h-3zM405 551h2v1h-2zM288 552h3v1h-3zM402 552h3v1h-3zM291 553h3v1h-3zM397 553h5v1h-5zM294 554h3v1h-3zM391 554h6v1h-6zM297 555h3v1h-3zM385 555h6v1h-6zM300 556h3v1h-3zM379 556h6v1h-6zM303 557h4v1h-4zM373 557h6v1h-6zM307 558h36v1h-36zM367 558h6v1h-6zM343 559h24v1h-24z" fill="#000" shape-rendering="crispEdges"/>
<path d="M253 412h24v1h-24zM235 413h18v1h-18zM277 413h12v1h-12zM223 414h12v1h-12zM289 414h60v1h-60zM181 415h42v1h-42zM349 415h18v1h-18zM151 416h30v1h-30zM367 416h30v1h-30zM133 417h18v1h-18zM397 417h24v1h-24zM109 418h24v1h-24zM421 418h12v1h-12zM97 419h12v1h-12zM433 419h12v1h-12zM88 420h9v1h-9zM445 420h18v1h-18zM463 421h12v1h-12zM475 422h12v1h-12zM487 423h18v1h-18zM505 424h12v1h-12zM517 425h6v1h-6zM523 426h6v1h-6zM529 427h6v1h-6zM535 428h6v1h-6zM541 429h12v1h-12zM553 430h6v1h-6zM559 431h6v1h-6zM565 432h6v1h-6zM571 433h6v1h-6zM577 434h6v1h-6zM583 435h6v1h-6zM589 436h6v1h-6zM595 437h11v1h-11zM606 438h3v1h-3zM609 439h10v1h-10zM619 440h12v1h-12zM631 441h6v1h-6zM637 442h6v1h-6zM643 443h6v1h-6zM649 444h12v1h-12zM661 445h6v1h-6zM667 446h6v1h-6zM673 447h12v1h-12zM685 448h6v1h-6zM691 449h6v1h-6zM697 450h12v1h-12zM709 451h6v1h-6zM715 452h12v1h-12zM727 453h6v1h-6zM733 454h6v1h-6zM739 455h12v1h-12zM751 456h6v1h-6zM757 457h12v1h-12zM769 458h6v1h-6zM775 459h12v1h-12zM787 460h18v1h-18zM805 461h4v1h-4z" fill="#ff00ff" shape-rendering="crispEdges"/>
<line x1="85" x2="957" y1="393.5" y2="393.5" stroke="#0a7cf5" stroke-width="1" stroke-dasharray="3 3"/>
<rect x="734" y="372" width="7" height="1" fill="#000" />
<rect x="736" y="370" width="1" height="5" fill="#000" />
<text x="741.8" y="369" font-family="Liberation Sans" font-size="12" fill="#d4493f" text-anchor="start" font-weight="bold" textLength="36.8" lengthAdjust="spacingAndGlyphs" >1.4139</text>
<rect x="122" y="622" width="7" height="1" fill="#000" />
<rect x="124" y="620" width="1" height="4" fill="#000" />
<text x="129.6" y="633.5" font-family="Liberation Sans" font-size="12" fill="#6aa85f" text-anchor="start" font-weight="bold" textLength="37" lengthAdjust="spacingAndGlyphs" >1.3539</text>
<rect x="88" y="789" width="1" height="22" fill="#55a052" />
<rect x="94" y="789" width="1" height="11" fill="#55a052" />
<rect x="100" y="789" width="1" height="9" fill="#55a052" />
<rect x="106" y="789" width="1" height="4" fill="#55a052" />
<rect x="112" y="789" width="1" height="14" fill="#55a052" />
<rect x="118" y="789" width="1" height="20" fill="#55a052" />
<rect x="124" y="789" width="1" height="22" fill="#55a052" />
<rect x="130" y="782" width="1" height="8" fill="#cf3d36" />
<rect x="136" y="761" width="1" height="29" fill="#cf3d36" />
<rect x="142" y="749" width="1" height="41" fill="#cf3d36" />
<rect x="148" y="736" width="1" height="54" fill="#cf3d36" />
<rect x="154" y="732" width="1" height="58" fill="#cf3d36" />
<rect x="160" y="736" width="1" height="54" fill="#cf3d36" />
<rect x="166" y="741" width="1" height="49" fill="#cf3d36" />
<rect x="172" y="767" width="1" height="23" fill="#cf3d36" />
<rect x="178" y="771" width="1" height="19" fill="#cf3d36" />
<rect x="184" y="789" width="1" height="4" fill="#55a052" />
<rect x="190" y="789" width="1" height="6" fill="#55a052" />
<rect x="196" y="789" width="1" height="18" fill="#55a052" />
<rect x="202" y="789" width="1" height="24" fill="#55a052" />
<rect x="208" y="789" width="1" height="20" fill="#55a052" />
<rect x="214" y="784" width="1" height="6" fill="#cf3d36" />
<rect x="220" y="776" width="1" height="14" fill="#cf3d36" />
<rect x="226" y="766" width="1" height="24" fill="#cf3d36" />
<rect x="232" y="769" width="1" height="21" fill="#cf3d36" />
<rect x="238" y="763" width="1" height="27" fill="#cf3d36" />
<rect x="244" y="759" width="1" height="31" fill="#cf3d36" />
<rect x="250" y="755" width="1" height="35" fill="#cf3d36" />
<rect x="256" y="765" width="1" height="25" fill="#cf3d36" />
<rect x="262" y="757" width="1" height="33" fill="#cf3d36" />
<rect x="268" y="761" width="1" height="29" fill="#cf3d36" />
<rect x="274" y="776" width="1" height="14" fill="#cf3d36" />
<rect x="280" y="789" width="1" height="16" fill="#55a052" />
<rect x="286" y="789" width="1" height="31" fill="#55a052" />
<rect x="292" y="789" width="1" height="29" fill="#55a052" />
<rect x="298" y="789" width="1" height="7" fill="#55a052" />
<rect x="304" y="777" width="1" height="13" fill="#cf3d36" />
<rect x="310" y="761" width="1" height="29" fill="#cf3d36" />
<rect x="316" y="742" width="1" height="48" fill="#cf3d36" />
<rect x="322" y="731" width="1" height="59" fill="#cf3d36" />
<rect x="328" y="749" width="1" height="41" fill="#cf3d36" />
<rect x="334" y="762" width="1" height="28" fill="#cf3d36" />
<rect x="340" y="775" width="1" height="15" fill="#cf3d36" />
<rect x="346" y="789" width="1" height="3" fill="#55a052" />
<rect x="352" y="789" width="1" height="12" fill="#55a052" />
<rect x="358" y="789" width="1" height="15" fill="#55a052" />
<rect x="364" y="789" width="1" height="11" fill="#55a052" />
<rect x="370" y="789" width="1" height="10" fill="#55a052" />
<rect x="376" y="789" width="1" height="13" fill="#55a052" />
<rect x="382" y="789" width="1" height="2" fill="#55a052" />
<rect x="388" y="784" width="1" height="6" fill="#cf3d36" />
<rect x="394" y="786" width="1" height="4" fill="#cf3d36" />
<rect x="400" y="774" width="1" height="16" fill="#cf3d36" />
<rect x="406" y="768" width="1" height="22" fill="#cf3d36" />
<rect x="412" y="760" width="1" height="30" fill="#cf3d36" />
<rect x="418" y="779" width="1" height="11" fill="#cf3d36" />
<rect x="424" y="784" width="1" height="6" fill="#cf3d36" />
<rect x="430" y="789" width="1" height="5" fill="#55a052" />
<rect x="436" y="789" width="1" height="22" fill="#55a052" />
<rect x="442" y="789" width="1" height="40" fill="#55a052" />
<rect x="448" y="789" width="1" height="49" fill="#55a052" />
<rect x="454" y="789" width="1" height="48" fill="#55a052" />
<rect x="460" y="789" width="1" height="36" fill="#55a052" />
<rect x="466" y="789" width="1" height="25" fill="#55a052" />
<rect x="472" y="789" width="1" height="11" fill="#55a052" />
<rect x="478" y="789" width="1" height="1" fill="#cf3d36" />
<rect x="484" y="789" width="1" height="1" fill="#cf3d36" />
<rect x="490" y="780" width="1" height="10" fill="#cf3d36" />
<rect x="496" y="772" width="1" height="18" fill="#cf3d36" />
<rect x="502" y="776" width="1" height="14" fill="#cf3d36" />
<rect x="508" y="777" width="1" height="13" fill="#cf3d36" />
<rect x="514" y="789" width="1" height="5" fill="#55a052" />
<rect x="520" y="789" width="1" height="24" fill="#55a052" />
<rect x="526" y="789" width="1" height="24" fill="#55a052" />
<rect x="532" y="789" width="1" height="16" fill="#55a052" />
<rect x="538" y="789" width="1" height="13" fill="#55a052" />
<rect x="544" y="789" width="1" height="3" fill="#55a052" />
<rect x="550" y="782" width="1" height="8" fill="#cf3d36" />
<rect x="556" y="764" width="1" height="26" fill="#cf3d36" />
<rect x="562" y="746" width="1" height="44" fill="#cf3d36" />
<rect x="568" y="741" width="1" height="49" fill="#cf3d36" />
<rect x="574" y="749" width="1" height="41" fill="#cf3d36" />
<rect x="580" y="757" width="1" height="33" fill="#cf3d36" />
<rect x="586" y="762" width="1" height="28" fill="#cf3d36" />
<rect x="592" y="761" width="1" height="29" fill="#cf3d36" />
<rect x="598" y="766" width="1" height="24" fill="#cf3d36" />
<rect x="604" y="777" width="1" height="13" fill="#cf3d36" />
<rect x="610" y="784" width="1" height="6" fill="#cf3d36" />
<rect x="616" y="789" width="1" height="1" fill="#55a052" />
<rect x="622" y="778" width="1" height="12" fill="#cf3d36" />
<rect x="628" y="780" width="1" height="10" fill="#cf3d36" />
<rect x="634" y="775" width="1" height="15" fill="#cf3d36" />
<rect x="640" y="774" width="1" height="16" fill="#cf3d36" />
<rect x="646" y="777" width="1" height="13" fill="#cf3d36" />
<rect x="652" y="779" width="1" height="11" fill="#cf3d36" />
<rect x="658" y="789" width="1" height="3" fill="#55a052" />
<rect x="664" y="789" width="1" height="7" fill="#55a052" />
<rect x="670" y="789" width="1" height="15" fill="#55a052" />
<rect x="676" y="789" width="1" height="26" fill="#55a052" />
<rect x="682" y="789" width="1" height="32" fill="#55a052" />
<rect x="688" y="789" width="1" height="32" fill="#55a052" />
<rect x="694" y="789" width="1" height="33" fill="#55a052" />
<rect x="700" y="789" width="1" height="42" fill="#55a052" />
<rect x="706" y="789" width="1" height="45" fill="#55a052" />
<rect x="712" y="789" width="1" height="33" fill="#55a052" />
<rect x="718" y="789" width="1" height="19" fill="#55a052" />
<rect x="724" y="788" width="1" height="2" fill="#cf3d36" />
<rect x="730" y="768" width="1" height="22" fill="#cf3d36" />
<rect x="736" y="758" width="1" height="32" fill="#cf3d36" />
<rect x="742" y="753" width="1" height="37" fill="#cf3d36" />
<rect x="748" y="773" width="1" height="17" fill="#cf3d36" />
<rect x="754" y="789" width="1" height="3" fill="#55a052" />
<rect x="760" y="789" width="1" height="14" fill="#55a052" />
<rect x="766" y="789" width="1" height="22" fill="#55a052" />
<rect x="772" y="789" width="1" height="19" fill="#55a052" />
<rect x="778" y="789" width="1" height="19" fill="#55a052" />
<rect x="784" y="789" width="1" height="11" fill="#55a052" />
<rect x="790" y="789" width="1" height="21" fill="#55a052" />
<rect x="796" y="789" width="1" height="12" fill="#55a052" />
<rect x="802" y="783" width="1" height="7" fill="#cf3d36" />
<rect x="808" y="776" width="1" height="14" fill="#cf3d36" />
<path d="M649 746h12v1h-12zM645 747h4v1h-4zM661 747h5v1h-5zM642 748h3v1h-3zM666 748h3v1h-3zM639 749h3v1h-3zM669 749h2v1h-2zM636 750h3v1h-3zM671 750h2v1h-2zM631 751h5v1h-5zM673 751h2v1h-2zM625 752h6v1h-6zM675 752h2v1h-2zM621 753h4v1h-4zM677 753h1v1h-1zM618 754h3v1h-3zM678 754h1v1h-1zM603 755h15v1h-15zM679 755h2v1h-2zM600 756h3v1h-3zM681 756h1v1h-1zM597 757h3v1h-3zM682 757h1v1h-1zM595 758h2v1h-2zM683 758h2v1h-2zM417 759h15v1h-15zM593 759h2v1h-2zM685 759h1v1h-1zM414 760h3v1h-3zM432 760h3v1h-3zM591 760h2v1h-2zM686 760h2v1h-2zM411 761h3v1h-3zM435 761h2v1h-2zM589 761h2v1h-2zM688 761h1v1h-1zM339 762h9v1h-9zM409 762h2v1h-2zM437 762h1v1h-1zM587 762h2v1h-2zM689 762h2v1h-2zM336 763h3v1h-3zM348 763h3v1h-3zM407 763h2v1h-2zM438 763h1v1h-1zM586 763h1v1h-1zM691 763h1v1h-1zM333 764h3v1h-3zM351 764h3v1h-3zM405 764h2v1h-2zM439 764h1v1h-1zM584 764h2v1h-2zM692 764h2v1h-2zM331 765h2v1h-2zM354 765h3v1h-3zM402 765h3v1h-3zM440 765h1v1h-1zM583 765h1v1h-1zM694 765h1v1h-1zM329 766h2v1h-2zM357 766h4v1h-4zM399 766h3v1h-3zM441 766h1v1h-1zM581 766h2v1h-2zM695 766h1v1h-1zM328 767h1v1h-1zM361 767h6v1h-6zM397 767h2v1h-2zM442 767h1v1h-1zM580 767h1v1h-1zM696 767h1v1h-1zM327 768h1v1h-1zM367 768h5v1h-5zM395 768h2v1h-2zM443 768h1v1h-1zM578 768h2v1h-2zM697 768h1v1h-1zM747 768h9v1h-9zM325 769h2v1h-2zM372 769h3v1h-3zM385 769h10v1h-10zM444 769h1v1h-1zM577 769h1v1h-1zM698 769h1v1h-1zM745 769h2v1h-2zM756 769h3v1h-3zM324 770h1v1h-1zM375 770h10v1h-10zM445 770h1v1h-1zM575 770h2v1h-2zM699 770h1v1h-1zM743 770h2v1h-2zM759 770h3v1h-3zM323 771h1v1h-1zM445 771h1v1h-1zM574 771h1v1h-1zM700 771h1v1h-1zM741 771h2v1h-2zM762 771h3v1h-3zM322 772h1v1h-1zM446 772h1v1h-1zM573 772h1v1h-1zM701 772h2v1h-2zM739 772h2v1h-2zM765 772h3v1h-3zM321 773h1v1h-1zM447 773h1v1h-1zM571 773h2v1h-2zM703 773h1v1h-1zM737 773h2v1h-2zM768 773h3v1h-3zM321 774h1v1h-1zM448 774h1v1h-1zM570 774h1v1h-1zM704 774h2v1h-2zM736 774h1v1h-1zM771 774h2v1h-2zM320 775h1v1h-1zM449 775h1v1h-1zM569 775h1v1h-1zM706 775h1v1h-1zM734 775h2v1h-2zM773 775h2v1h-2zM319 776h1v1h-1zM450 776h1v1h-1zM568 776h1v1h-1zM707 776h2v1h-2zM733 776h1v1h-1zM775 776h2v1h-2zM318 777h1v1h-1zM451 777h2v1h-2zM567 777h1v1h-1zM709 777h1v1h-1zM731 777h2v1h-2zM777 777h4v1h-4zM318 778h1v1h-1zM453 778h1v1h-1zM566 778h1v1h-1zM710 778h2v1h-2zM729 778h2v1h-2zM781 778h4v1h-4zM317 779h1v1h-1zM454 779h1v1h-1zM565 779h1v1h-1zM712 779h2v1h-2zM727 779h2v1h-2zM785 779h2v1h-2zM273 780h3v1h-3zM316 780h1v1h-1zM455 780h2v1h-2zM564 780h1v1h-1zM714 780h3v1h-3zM725 780h2v1h-2zM787 780h2v1h-2zM805 780h4v1h-4zM270 781h3v1h-3zM276 781h3v1h-3zM315 781h1v1h-1zM457 781h1v1h-1zM505 781h10v1h-10zM563 781h1v1h-1zM717 781h8v1h-8zM789 781h4v1h-4zM799 781h6v1h-6zM267 782h3v1h-3zM279 782h2v1h-2zM313 782h2v1h-2zM458 782h2v1h-2zM501 782h4v1h-4zM515 782h2v1h-2zM562 782h1v1h-1zM793 782h6v1h-6zM265 783h2v1h-2zM281 783h2v1h-2zM312 783h1v1h-1zM460 783h1v1h-1zM498 783h3v1h-3zM517 783h1v1h-1zM561 783h1v1h-1zM263 784h2v1h-2zM283 784h1v1h-1zM311 784h1v1h-1zM461 784h2v1h-2zM495 784h3v1h-3zM518 784h2v1h-2zM559 784h2v1h-2zM261 785h2v1h-2zM284 785h2v1h-2zM309 785h2v1h-2zM463 785h2v1h-2zM492 785h3v1h-3zM520 785h2v1h-2zM558 785h1v1h-1zM259 786h2v1h-2zM286 786h2v1h-2zM306 786h3v1h-3zM465 786h4v1h-4zM487 786h5v1h-5zM522 786h3v1h-3zM557 786h1v1h-1zM257 787h2v1h-2zM288 787h3v1h-3zM303 787h3v1h-3zM469 787h18v1h-18zM525 787h3v1h-3zM555 787h2v1h-2zM256 788h1v1h-1zM291 788h3v1h-3zM301 788h2v1h-2zM528 788h3v1h-3zM553 788h2v1h-2zM254 789h2v1h-2zM294 789h3v1h-3zM299 789h2v1h-2zM531 789h3v1h-3zM551 789h2v1h-2zM253 790h1v1h-1zM297 790h2v1h-2zM534 790h3v1h-3zM547 790h4v1h-4zM251 791h2v1h-2zM537 791h10v1h-10zM250 792h1v1h-1zM249 793h1v1h-1zM247 794h2v1h-2zM246 795h1v1h-1zM245 796h1v1h-1zM243 797h2v1h-2zM241 798h2v1h-2zM239 799h2v1h-2zM238 800h1v1h-1zM236 801h2v1h-2zM177 802h4v1h-4zM235 802h1v1h-1zM174 803h3v1h-3zM181 803h6v1h-6zM233 803h2v1h-2zM171 804h3v1h-3zM187 804h5v1h-5zM231 804h2v1h-2zM169 805h2v1h-2zM192 805h3v1h-3zM228 805h3v1h-3zM167 806h2v1h-2zM195 806h2v1h-2zM225 806h3v1h-3zM166 807h1v1h-1zM197 807h2v1h-2zM223 807h2v1h-2zM165 808h1v1h-1zM199 808h2v1h-2zM221 808h2v1h-2zM163 809h2v1h-2zM201 809h3v1h-3zM217 809h4v1h-4zM162 810h1v1h-1zM204 810h3v1h-3zM211 810h6v1h-6zM161 811h1v1h-1zM207 811h4v1h-4zM160 812h1v1h-1zM159 813h1v1h-1zM158 814h1v1h-1zM157 815h1v1h-1zM156 816h1v1h-1zM155 817h1v1h-1zM154 818h1v1h-1zM153 819h1v1h-1zM153 820h1v1h-1zM152 821h1v1h-1zM151 822h1v1h-1zM150 823h1v1h-1zM150 824h1v1h-1zM149 825h1v1h-1zM148 826h1v1h-1zM147 827h1v1h-1zM147 828h1v1h-1zM146 829h1v1h-1zM145 830h1v1h-1zM144 831h1v1h-1zM144 832h1v1h-1zM143 833h1v1h-1zM88 834h3v1h-3zM142 834h1v1h-1zM91 835h6v1h-6zM141 835h1v1h-1zM97 836h11v1h-11zM139 836h2v1h-2zM108 837h3v1h-3zM138 837h1v1h-1zM111 838h3v1h-3zM137 838h1v1h-1zM114 839h3v1h-3zM135 839h2v1h-2zM117 840h2v1h-2zM133 840h2v1h-2zM119 841h2v1h-2zM131 841h2v1h-2zM121 842h2v1h-2zM127 842h4v1h-4zM123 843h4v1h-4z" fill="#0000a8" shape-rendering="crispEdges"/>
<path d="M639 741h14v1h-14zM636 742h3v1h-3zM653 742h1v1h-1zM634 743h2v1h-2zM654 743h1v1h-1zM322 744h1v1h-1zM633 744h1v1h-1zM655 744h1v1h-1zM321 745h1v1h-1zM323 745h2v1h-2zM631 745h2v1h-2zM656 745h1v1h-1zM321 746h1v1h-1zM325 746h2v1h-2zM412 746h1v1h-1zM592 746h7v1h-7zM630 746h1v1h-1zM657 746h1v1h-1zM320 747h1v1h-1zM327 747h2v1h-2zM411 747h1v1h-1zM413 747h1v1h-1zM590 747h2v1h-2zM599 747h2v1h-2zM629 747h1v1h-1zM658 747h1v1h-1zM320 748h1v1h-1zM329 748h2v1h-2zM410 748h1v1h-1zM413 748h1v1h-1zM589 748h1v1h-1zM601 748h2v1h-2zM622 748h7v1h-7zM659 748h2v1h-2zM319 749h1v1h-1zM331 749h1v1h-1zM409 749h1v1h-1zM414 749h1v1h-1zM587 749h2v1h-2zM603 749h2v1h-2zM621 749h1v1h-1zM661 749h2v1h-2zM318 750h1v1h-1zM332 750h2v1h-2zM409 750h1v1h-1zM415 750h1v1h-1zM583 750h4v1h-4zM605 750h2v1h-2zM620 750h1v1h-1zM663 750h2v1h-2zM318 751h1v1h-1zM334 751h1v1h-1zM408 751h1v1h-1zM415 751h1v1h-1zM571 751h12v1h-12zM607 751h2v1h-2zM619 751h1v1h-1zM665 751h1v1h-1zM317 752h1v1h-1zM335 752h2v1h-2zM407 752h1v1h-1zM416 752h1v1h-1zM568 752h3v1h-3zM609 752h2v1h-2zM619 752h1v1h-1zM666 752h1v1h-1zM742 752h1v1h-1zM317 753h1v1h-1zM337 753h1v1h-1zM406 753h1v1h-1zM417 753h1v1h-1zM567 753h1v1h-1zM611 753h2v1h-2zM618 753h1v1h-1zM667 753h1v1h-1zM741 753h1v1h-1zM743 753h1v1h-1zM316 754h1v1h-1zM338 754h2v1h-2zM405 754h1v1h-1zM417 754h1v1h-1zM566 754h1v1h-1zM613 754h2v1h-2zM617 754h1v1h-1zM668 754h1v1h-1zM740 754h1v1h-1zM744 754h1v1h-1zM316 755h1v1h-1zM340 755h1v1h-1zM404 755h1v1h-1zM418 755h3v1h-3zM565 755h1v1h-1zM615 755h2v1h-2zM669 755h1v1h-1zM739 755h1v1h-1zM744 755h1v1h-1zM315 756h1v1h-1zM341 756h1v1h-1zM403 756h1v1h-1zM421 756h4v1h-4zM565 756h1v1h-1zM670 756h1v1h-1zM738 756h1v1h-1zM745 756h1v1h-1zM315 757h1v1h-1zM341 757h1v1h-1zM402 757h1v1h-1zM425 757h2v1h-2zM564 757h1v1h-1zM671 757h1v1h-1zM737 757h1v1h-1zM746 757h1v1h-1zM315 758h1v1h-1zM342 758h1v1h-1zM401 758h1v1h-1zM427 758h1v1h-1zM563 758h1v1h-1zM671 758h1v1h-1zM736 758h1v1h-1zM747 758h1v1h-1zM314 759h1v1h-1zM343 759h1v1h-1zM400 759h1v1h-1zM428 759h2v1h-2zM562 759h1v1h-1zM672 759h1v1h-1zM735 759h1v1h-1zM747 759h1v1h-1zM314 760h1v1h-1zM343 760h1v1h-1zM399 760h1v1h-1zM430 760h1v1h-1zM562 760h1v1h-1zM673 760h1v1h-1zM735 760h1v1h-1zM748 760h1v1h-1zM313 761h1v1h-1zM344 761h1v1h-1zM399 761h1v1h-1zM431 761h1v1h-1zM561 761h1v1h-1zM673 761h1v1h-1zM734 761h1v1h-1zM749 761h1v1h-1zM313 762h1v1h-1zM345 762h1v1h-1zM398 762h1v1h-1zM431 762h1v1h-1zM561 762h1v1h-1zM674 762h1v1h-1zM733 762h1v1h-1zM749 762h1v1h-1zM313 763h1v1h-1zM345 763h1v1h-1zM397 763h1v1h-1zM432 763h1v1h-1zM560 763h1v1h-1zM675 763h1v1h-1zM732 763h1v1h-1zM750 763h1v1h-1zM312 764h1v1h-1zM346 764h1v1h-1zM396 764h1v1h-1zM432 764h1v1h-1zM560 764h1v1h-1zM675 764h1v1h-1zM732 764h1v1h-1zM751 764h1v1h-1zM312 765h1v1h-1zM347 765h1v1h-1zM396 765h1v1h-1zM433 765h1v1h-1zM559 765h1v1h-1zM676 765h1v1h-1zM731 765h1v1h-1zM751 765h1v1h-1zM312 766h1v1h-1zM348 766h1v1h-1zM395 766h1v1h-1zM433 766h1v1h-1zM559 766h1v1h-1zM677 766h1v1h-1zM730 766h1v1h-1zM752 766h1v1h-1zM311 767h1v1h-1zM349 767h1v1h-1zM387 767h8v1h-8zM434 767h1v1h-1zM558 767h1v1h-1zM678 767h1v1h-1zM730 767h1v1h-1zM753 767h1v1h-1zM265 768h4v1h-4zM311 768h1v1h-1zM350 768h1v1h-1zM385 768h2v1h-2zM434 768h1v1h-1zM558 768h1v1h-1zM679 768h1v1h-1zM729 768h1v1h-1zM753 768h1v1h-1zM262 769h3v1h-3zM269 769h1v1h-1zM310 769h1v1h-1zM351 769h1v1h-1zM383 769h2v1h-2zM435 769h1v1h-1zM557 769h1v1h-1zM680 769h1v1h-1zM729 769h1v1h-1zM754 769h1v1h-1zM261 770h1v1h-1zM270 770h1v1h-1zM310 770h1v1h-1zM352 770h1v1h-1zM382 770h1v1h-1zM435 770h1v1h-1zM557 770h1v1h-1zM681 770h1v1h-1zM728 770h1v1h-1zM755 770h1v1h-1zM261 771h1v1h-1zM271 771h1v1h-1zM309 771h1v1h-1zM353 771h2v1h-2zM381 771h1v1h-1zM436 771h1v1h-1zM556 771h1v1h-1zM682 771h1v1h-1zM728 771h1v1h-1zM756 771h1v1h-1zM260 772h1v1h-1zM271 772h1v1h-1zM309 772h1v1h-1zM355 772h2v1h-2zM361 772h6v1h-6zM380 772h1v1h-1zM436 772h1v1h-1zM556 772h1v1h-1zM683 772h2v1h-2zM727 772h1v1h-1zM757 772h1v1h-1zM259 773h1v1h-1zM272 773h1v1h-1zM308 773h1v1h-1zM357 773h4v1h-4zM367 773h4v1h-4zM379 773h1v1h-1zM436 773h1v1h-1zM556 773h1v1h-1zM685 773h1v1h-1zM727 773h1v1h-1zM757 773h1v1h-1zM259 774h1v1h-1zM273 774h1v1h-1zM308 774h1v1h-1zM371 774h2v1h-2zM378 774h1v1h-1zM437 774h1v1h-1zM507 774h2v1h-2zM555 774h1v1h-1zM686 774h2v1h-2zM727 774h1v1h-1zM758 774h1v1h-1zM808 774h1v1h-1zM258 775h1v1h-1zM274 775h1v1h-1zM307 775h1v1h-1zM373 775h2v1h-2zM377 775h1v1h-1zM437 775h1v1h-1zM496 775h3v1h-3zM504 775h3v1h-3zM509 775h1v1h-1zM555 775h1v1h-1zM688 775h1v1h-1zM726 775h1v1h-1zM759 775h1v1h-1zM806 775h2v1h-2zM250 776h2v1h-2zM257 776h1v1h-1zM274 776h1v1h-1zM307 776h1v1h-1zM375 776h2v1h-2zM438 776h1v1h-1zM495 776h1v1h-1zM499 776h5v1h-5zM509 776h1v1h-1zM554 776h1v1h-1zM689 776h1v1h-1zM726 776h1v1h-1zM760 776h1v1h-1zM805 776h1v1h-1zM249 777h1v1h-1zM252 777h3v1h-3zM257 777h1v1h-1zM275 777h1v1h-1zM306 777h1v1h-1zM438 777h1v1h-1zM494 777h1v1h-1zM510 777h1v1h-1zM554 777h1v1h-1zM690 777h1v1h-1zM725 777h1v1h-1zM761 777h1v1h-1zM803 777h2v1h-2zM248 778h1v1h-1zM255 778h2v1h-2zM275 778h1v1h-1zM306 778h1v1h-1zM439 778h1v1h-1zM493 778h1v1h-1zM511 778h1v1h-1zM554 778h1v1h-1zM691 778h2v1h-2zM725 778h1v1h-1zM762 778h1v1h-1zM802 778h1v1h-1zM247 779h1v1h-1zM276 779h1v1h-1zM305 779h1v1h-1zM439 779h1v1h-1zM493 779h1v1h-1zM511 779h1v1h-1zM553 779h1v1h-1zM693 779h1v1h-1zM724 779h1v1h-1zM763 779h1v1h-1zM801 779h1v1h-1zM246 780h1v1h-1zM276 780h1v1h-1zM305 780h1v1h-1zM440 780h1v1h-1zM492 780h1v1h-1zM512 780h1v1h-1zM553 780h1v1h-1zM694 780h1v1h-1zM724 780h1v1h-1zM763 780h1v1h-1zM801 780h1v1h-1zM245 781h1v1h-1zM277 781h1v1h-1zM304 781h1v1h-1zM440 781h1v1h-1zM491 781h1v1h-1zM513 781h1v1h-1zM552 781h1v1h-1zM695 781h1v1h-1zM723 781h1v1h-1zM764 781h1v1h-1zM800 781h1v1h-1zM244 782h1v1h-1zM277 782h1v1h-1zM304 782h1v1h-1zM441 782h1v1h-1zM490 782h1v1h-1zM513 782h1v1h-1zM552 782h1v1h-1zM695 782h1v1h-1zM723 782h1v1h-1zM765 782h1v1h-1zM799 782h1v1h-1zM243 783h1v1h-1zM277 783h1v1h-1zM303 783h1v1h-1zM441 783h1v1h-1zM489 783h1v1h-1zM514 783h1v1h-1zM552 783h1v1h-1zM696 783h1v1h-1zM722 783h1v1h-1zM766 783h3v1h-3zM783 783h2v1h-2zM799 783h1v1h-1zM165 784h2v1h-2zM242 784h1v1h-1zM278 784h1v1h-1zM303 784h1v1h-1zM442 784h1v1h-1zM487 784h2v1h-2zM514 784h1v1h-1zM551 784h1v1h-1zM696 784h1v1h-1zM722 784h1v1h-1zM769 784h5v1h-5zM781 784h2v1h-2zM785 784h1v1h-1zM798 784h1v1h-1zM163 785h2v1h-2zM167 785h1v1h-1zM241 785h1v1h-1zM278 785h1v1h-1zM302 785h1v1h-1zM442 785h1v1h-1zM486 785h1v1h-1zM515 785h1v1h-1zM551 785h1v1h-1zM697 785h1v1h-1zM721 785h1v1h-1zM774 785h3v1h-3zM779 785h2v1h-2zM786 785h1v1h-1zM797 785h1v1h-1zM161 786h2v1h-2zM167 786h1v1h-1zM240 786h1v1h-1zM279 786h1v1h-1zM302 786h1v1h-1zM443 786h1v1h-1zM485 786h1v1h-1zM515 786h1v1h-1zM550 786h1v1h-1zM698 786h1v1h-1zM720 786h1v1h-1zM777 786h2v1h-2zM787 786h1v1h-1zM797 786h1v1h-1zM160 787h1v1h-1zM168 787h1v1h-1zM239 787h1v1h-1zM279 787h1v1h-1zM301 787h1v1h-1zM443 787h1v1h-1zM478 787h7v1h-7zM516 787h1v1h-1zM550 787h1v1h-1zM698 787h1v1h-1zM720 787h1v1h-1zM787 787h1v1h-1zM795 787h2v1h-2zM159 788h1v1h-1zM168 788h1v1h-1zM238 788h1v1h-1zM280 788h1v1h-1zM301 788h1v1h-1zM444 788h1v1h-1zM476 788h2v1h-2zM516 788h1v1h-1zM549 788h1v1h-1zM699 788h1v1h-1zM719 788h1v1h-1zM788 788h1v1h-1zM793 788h2v1h-2zM157 789h2v1h-2zM169 789h1v1h-1zM237 789h1v1h-1zM280 789h1v1h-1zM300 789h1v1h-1zM444 789h1v1h-1zM475 789h1v1h-1zM517 789h1v1h-1zM547 789h2v1h-2zM699 789h1v1h-1zM719 789h1v1h-1zM789 789h1v1h-1zM791 789h2v1h-2zM156 790h1v1h-1zM170 790h1v1h-1zM236 790h1v1h-1zM281 790h1v1h-1zM300 790h1v1h-1zM445 790h1v1h-1zM473 790h2v1h-2zM517 790h1v1h-1zM546 790h1v1h-1zM700 790h1v1h-1zM718 790h1v1h-1zM790 790h1v1h-1zM155 791h1v1h-1zM170 791h1v1h-1zM235 791h1v1h-1zM281 791h1v1h-1zM299 791h1v1h-1zM445 791h1v1h-1zM472 791h1v1h-1zM518 791h1v1h-1zM545 791h1v1h-1zM701 791h1v1h-1zM716 791h2v1h-2zM154 792h1v1h-1zM171 792h1v1h-1zM234 792h1v1h-1zM282 792h1v1h-1zM299 792h1v1h-1zM446 792h1v1h-1zM471 792h1v1h-1zM518 792h1v1h-1zM544 792h1v1h-1zM702 792h1v1h-1zM715 792h1v1h-1zM153 793h1v1h-1zM171 793h1v1h-1zM175 793h4v1h-4zM233 793h1v1h-1zM282 793h1v1h-1zM298 793h1v1h-1zM446 793h1v1h-1zM470 793h1v1h-1zM519 793h1v1h-1zM543 793h1v1h-1zM703 793h1v1h-1zM713 793h2v1h-2zM153 794h1v1h-1zM172 794h3v1h-3zM179 794h1v1h-1zM229 794h4v1h-4zM283 794h1v1h-1zM298 794h1v1h-1zM447 794h1v1h-1zM469 794h1v1h-1zM519 794h1v1h-1zM541 794h2v1h-2zM704 794h1v1h-1zM711 794h2v1h-2zM152 795h1v1h-1zM179 795h1v1h-1zM226 795h3v1h-3zM283 795h1v1h-1zM297 795h1v1h-1zM447 795h1v1h-1zM468 795h1v1h-1zM520 795h1v1h-1zM540 795h1v1h-1zM705 795h1v1h-1zM708 795h3v1h-3zM151 796h1v1h-1zM180 796h1v1h-1zM225 796h1v1h-1zM284 796h1v1h-1zM297 796h1v1h-1zM448 796h1v1h-1zM467 796h1v1h-1zM520 796h1v1h-1zM539 796h1v1h-1zM706 796h2v1h-2zM150 797h1v1h-1zM180 797h1v1h-1zM225 797h1v1h-1zM284 797h1v1h-1zM296 797h1v1h-1zM448 797h1v1h-1zM465 797h2v1h-2zM521 797h2v1h-2zM531 797h8v1h-8zM150 798h1v1h-1zM181 798h1v1h-1zM224 798h1v1h-1zM285 798h1v1h-1zM295 798h1v1h-1zM449 798h1v1h-1zM463 798h2v1h-2zM523 798h2v1h-2zM528 798h3v1h-3zM149 799h1v1h-1zM182 799h1v1h-1zM223 799h1v1h-1zM285 799h1v1h-1zM295 799h1v1h-1zM450 799h1v1h-1zM461 799h2v1h-2zM525 799h3v1h-3zM148 800h1v1h-1zM182 800h1v1h-1zM222 800h1v1h-1zM286 800h1v1h-1zM294 800h1v1h-1zM451 800h2v1h-2zM459 800h2v1h-2zM148 801h1v1h-1zM183 801h1v1h-1zM222 801h1v1h-1zM286 801h2v1h-2zM293 801h1v1h-1zM453 801h1v1h-1zM456 801h3v1h-3zM147 802h1v1h-1zM183 802h1v1h-1zM221 802h1v1h-1zM288 802h3v1h-3zM293 802h1v1h-1zM454 802h2v1h-2zM147 803h1v1h-1zM184 803h1v1h-1zM220 803h1v1h-1zM291 803h2v1h-2zM146 804h1v1h-1zM185 804h2v1h-2zM219 804h1v1h-1zM146 805h1v1h-1zM187 805h2v1h-2zM217 805h2v1h-2zM145 806h1v1h-1zM189 806h2v1h-2zM216 806h1v1h-1zM145 807h1v1h-1zM191 807h1v1h-1zM215 807h1v1h-1zM144 808h1v1h-1zM192 808h1v1h-1zM214 808h1v1h-1zM144 809h1v1h-1zM193 809h1v1h-1zM214 809h1v1h-1zM143 810h1v1h-1zM193 810h1v1h-1zM213 810h1v1h-1zM143 811h1v1h-1zM194 811h1v1h-1zM213 811h1v1h-1zM142 812h1v1h-1zM195 812h1v1h-1zM212 812h1v1h-1zM142 813h1v1h-1zM196 813h1v1h-1zM212 813h1v1h-1zM141 814h1v1h-1zM197 814h1v1h-1zM211 814h1v1h-1zM141 815h1v1h-1zM198 815h1v1h-1zM211 815h1v1h-1zM140 816h1v1h-1zM199 816h1v1h-1zM210 816h1v1h-1zM140 817h1v1h-1zM199 817h1v1h-1zM210 817h1v1h-1zM139 818h1v1h-1zM200 818h1v1h-1zM209 818h1v1h-1zM139 819h1v1h-1zM201 819h1v1h-1zM209 819h1v1h-1zM138 820h1v1h-1zM202 820h3v1h-3zM208 820h1v1h-1zM138 821h1v1h-1zM205 821h4v1h-4zM137 822h1v1h-1zM137 823h1v1h-1zM136 824h1v1h-1zM136 825h1v1h-1zM136 826h1v1h-1zM135 827h1v1h-1zM135 828h1v1h-1zM134 829h1v1h-1zM134 830h1v1h-1zM133 831h1v1h-1zM133 832h1v1h-1zM133 833h1v1h-1zM132 834h1v1h-1zM132 835h1v1h-1zM131 836h1v1h-1zM131 837h1v1h-1zM105 838h2v1h-2zM130 838h1v1h-1zM102 839h3v1h-3zM107 839h1v1h-1zM130 839h1v1h-1zM94 840h8v1h-8zM108 840h1v1h-1zM130 840h1v1h-1zM92 841h2v1h-2zM109 841h1v1h-1zM129 841h1v1h-1zM91 842h1v1h-1zM109 842h1v1h-1zM129 842h1v1h-1zM89 843h2v1h-2zM110 843h1v1h-1zM128 843h1v1h-1zM88 844h1v1h-1zM111 844h1v1h-1zM128 844h1v1h-1zM112 845h1v1h-1zM127 845h1v1h-1zM113 846h2v1h-2zM127 846h1v1h-1zM115 847h1v1h-1zM127 847h1v1h-1zM116 848h2v1h-2zM126 848h1v1h-1zM118 849h1v1h-1zM126 849h1v1h-1zM119 850h2v1h-2zM125 850h1v1h-1zM121 851h1v1h-1zM125 851h1v1h-1zM122 852h3v1h-3zM124 853h1v1h-1z" fill="#000" shape-rendering="crispEdges"/>
<text x="86" y="30.5" font-family="'Liberation Sans','Noto Sans CJK SC',sans-serif" font-size="12" fill="#000" text-anchor="start">美元加元</text>
<text x="133.5" y="30.5" font-family="'Liberation Sans','Noto Sans CJK SC',sans-serif" font-size="12" fill="#ff8000" text-anchor="start">【日线】</text>
<circle cx="186.7" cy="28.45" r="4.1" fill="none" stroke="#ff8000" stroke-width="0.9" opacity="0.9"/>
<rect x="183" y="28" width="8" height="1" fill="#ff9a33" />
<rect x="186" y="25" width="1" height="8" fill="#ff9a33" />
<rect x="200" y="31" width="12" height="1" fill="#8a8a8a" />
<rect x="211" y="19" width="1" height="13" fill="#8a8a8a" />
<rect x="199.5" y="18.5" width="11" height="12" fill="#fff" stroke="#000080" stroke-width="1" shape-rendering="crispEdges"/>
<polyline points="200.5,25.5 203.5,21.5 205.5,24.5 207.5,22.5 210,22.5" fill="none" stroke="#ff0000" stroke-width="1.1"/>
<polyline points="200.5,28.5 203.5,24.5 205.5,27.5 207.5,25.5 210,25.5" fill="none" stroke="#0000ff" stroke-width="1.1"/>
<text x="214.5" y="31" font-family="Liberation Sans" font-size="12" fill="#000" text-anchor="start" font-weight="normal" textLength="91.5" lengthAdjust="spacingAndGlyphs" >MA1(50,0,200,0)</text>
<text x="312.4" y="31" font-family="Liberation Sans" font-size="12" fill="#000" text-anchor="start" font-weight="normal" textLength="73" lengthAdjust="spacingAndGlyphs" >MA50:1.3975</text>
<text x="395.2" y="31" font-family="Liberation Sans" font-size="12" fill="#0808b8" text-anchor="start" font-weight="normal" textLength="66.4" lengthAdjust="spacingAndGlyphs" >MA0:1.4090</text>
<text x="470.5" y="31" font-family="Liberation Sans" font-size="12" fill="#ff00ff" text-anchor="start" font-weight="normal" textLength="80.7" lengthAdjust="spacingAndGlyphs" >MA200:1.3925</text>
<text x="561.1" y="31" font-family="Liberation Sans" font-size="12" fill="#ff8000" text-anchor="start" font-weight="normal" textLength="65.7" lengthAdjust="spacingAndGlyphs" >MA0:1.4090</text>
<text x="86.5" y="677" font-family="Liberation Sans" font-size="12" fill="#111" text-anchor="start" font-weight="normal" textLength="78" lengthAdjust="spacingAndGlyphs" >MACD(13,8,9)</text>
<text x="169.5" y="677" font-family="Liberation Sans" font-size="12" fill="#111" text-anchor="start" font-weight="normal" textLength="65" lengthAdjust="spacingAndGlyphs" >DIFF:0.0009</text>
<text x="243" y="677" font-family="Liberation Sans" font-size="12" fill="#0808b8" text-anchor="start" font-weight="normal" textLength="63.5" lengthAdjust="spacingAndGlyphs" >DEA:0.0005</text>
<text x="316" y="677" font-family="Liberation Sans" font-size="12" fill="#ff00ff" text-anchor="start" font-weight="normal" textLength="77.5" lengthAdjust="spacingAndGlyphs" >MACD:0.0007</text>
<rect x="21" y="666" width="4" height="1" fill="#000" />
<rect x="21" y="673" width="4" height="1" fill="#000" />
<rect x="20" y="667" width="1" height="1" fill="#000" />
<rect x="25" y="667" width="1" height="1" fill="#000" />
<rect x="20" y="672" width="1" height="1" fill="#000" />
<rect x="25" y="672" width="1" height="1" fill="#000" />
<rect x="19" y="668" width="1" height="4" fill="#000" />
<rect x="26" y="668" width="1" height="4" fill="#000" />
<rect x="22" y="668" width="2" height="1" fill="#ff0000" />
<rect x="21" y="669" width="4" height="2" fill="#ff0000" />
<rect x="22" y="671" width="2" height="1" fill="#ff0000" />
<rect x="22" y="663" width="1" height="2" fill="#ff0000" />
<rect x="22" y="675" width="1" height="2" fill="#ff0000" />
<rect x="16" y="669" width="2" height="1" fill="#ff0000" />
<rect x="28" y="669" width="2" height="1" fill="#ff0000" />
<rect x="17" y="664" width="1" height="1" fill="#ff0000" />
<rect x="18" y="665" width="1" height="1" fill="#ff0000" />
<rect x="28" y="664" width="1" height="1" fill="#ff0000" />
<rect x="27" y="665" width="1" height="1" fill="#ff0000" />
<rect x="17" y="675" width="1" height="1" fill="#ff0000" />
<rect x="18" y="674" width="1" height="1" fill="#ff0000" />
<rect x="27" y="674" width="1" height="1" fill="#ff0000" />
<rect x="28" y="675" width="1" height="1" fill="#ff0000" />
<rect x="84" y="918" width="873" height="1" fill="#dbe3ec" />
<rect x="191" y="918" width="1" height="5" fill="#cfd6de" />
<text x="192.9" y="931" font-family="Liberation Sans" font-size="12" fill="#1a1a22" text-anchor="start" font-weight="bold" textLength="44.3" lengthAdjust="spacingAndGlyphs" >2025/07</text>
<rect x="328" y="918" width="1" height="5" fill="#cfd6de" />
<text x="329.9" y="931" font-family="Liberation Sans" font-size="12" fill="#1a1a22" text-anchor="start" font-weight="bold" textLength="44.3" lengthAdjust="spacingAndGlyphs" >2025/08</text>
<rect x="454" y="918" width="1" height="5" fill="#cfd6de" />
<text x="455.9" y="931" font-family="Liberation Sans" font-size="12" fill="#1a1a22" text-anchor="start" font-weight="bold" textLength="44.3" lengthAdjust="spacingAndGlyphs" >2025/09</text>
<rect x="586" y="918" width="1" height="5" fill="#cfd6de" />
<text x="587.9" y="931" font-family="Liberation Sans" font-size="12" fill="#1a1a22" text-anchor="start" font-weight="bold" textLength="44.3" lengthAdjust="spacingAndGlyphs" >2025/10</text>
<rect x="724" y="918" width="1" height="5" fill="#cfd6de" />
<text x="725.9" y="931" font-family="Liberation Sans" font-size="12" fill="#1a1a22" text-anchor="start" font-weight="bold" textLength="44.3" lengthAdjust="spacingAndGlyphs" >2025/11</text>
<rect x="14.5" y="918.5" width="69" height="19" fill="#fff" stroke="#cfd6de" stroke-width="1"/>
<text x="29" y="933" font-family="'Liberation Sans','Noto Sans CJK SC',sans-serif" font-size="12" font-weight="bold" fill="#ff8000" text-anchor="start">日线</text>
<path d="M58.4 932.7 L67.2 932.7 L62.8 924.7 Z" fill="#ff8000"/>
<rect x="93" y="935" width="374" height="1" fill="#e9edf2" />
<rect x="14" y="938" width="943" height="1" fill="#cdd4dc" />
<rect x="0" y="954" width="957" height="1" fill="#cdd3db" />
<rect x="93" y="938" width="1" height="16" fill="#cfd6de" />
<rect x="151" y="938" width="1" height="16" fill="#cfd6de" />
<rect x="179" y="938" width="1" height="16" fill="#cfd6de" />
<rect x="219" y="938" width="1" height="16" fill="#cfd6de" />
<rect x="259" y="938" width="1" height="16" fill="#cfd6de" />
<rect x="293" y="938" width="1" height="16" fill="#cfd6de" />
<rect x="333" y="938" width="1" height="16" fill="#cfd6de" />
<rect x="367" y="938" width="1" height="16" fill="#cfd6de" />
<rect x="401" y="938" width="1" height="16" fill="#cfd6de" />
<rect x="441" y="938" width="1" height="16" fill="#cfd6de" />
<rect x="475" y="938" width="1" height="16" fill="#cfd6de" />
<rect x="503" y="938" width="1" height="16" fill="#cfd6de" />
<rect x="537" y="938" width="1" height="16" fill="#cfd6de" />
<rect x="577" y="938" width="1" height="16" fill="#cfd6de" />
<rect x="14" y="938" width="39" height="15" fill="#ff6600" />
<text x="21.5" y="951" font-family="'Liberation Sans','Noto Sans CJK SC',sans-serif" font-size="12" fill="#fff" text-anchor="start">指标</text>
<text x="61.5" y="951" font-family="'Liberation Sans','Noto Sans CJK SC',sans-serif" font-size="12" fill="#222" text-anchor="start">模板</text>
<text x="102" y="949.6" font-family="Liberation Mono" font-size="10" fill="#ff8000" text-anchor="start" font-weight="normal" textLength="18" lengthAdjust="spacingAndGlyphs" transform="translate(0 -123.45) scale(1 1.13)">VIP</text>
<text x="119.8" y="950.8" font-family="'Liberation Sans','Noto Sans CJK SC',sans-serif" font-size="12" fill="#ff8000" text-anchor="start">指标</text>
<text x="165.5" y="949.6" font-family="Liberation Mono" font-size="10" fill="#111" text-anchor="middle" font-weight="normal" textLength="12" lengthAdjust="spacingAndGlyphs" transform="translate(0 -123.45) scale(1 1.13)">MA</text>
<text x="199.5" y="949.6" font-family="Liberation Mono" font-size="10" fill="#111" text-anchor="middle" font-weight="normal" textLength="24" lengthAdjust="spacingAndGlyphs" transform="translate(0 -123.45) scale(1 1.13)">MACD</text>
<text x="239.5" y="949.6" font-family="Liberation Mono" font-size="10" fill="#111" text-anchor="middle" font-weight="normal" textLength="24" lengthAdjust="spacingAndGlyphs" transform="translate(0 -123.45) scale(1 1.13)">BOLL</text>
<text x="276.5" y="949.6" font-family="Liberation Mono" font-size="10" fill="#111" text-anchor="middle" font-weight="normal" textLength="18" lengthAdjust="spacingAndGlyphs" transform="translate(0 -123.45) scale(1 1.13)">VOL</text>
<text x="313.5" y="949.6" font-family="Liberation Mono" font-size="10" fill="#111" text-anchor="middle" font-weight="normal" textLength="24" lengthAdjust="spacingAndGlyphs" transform="translate(0 -123.45) scale(1 1.13)">BIAS</text>
<text x="350.5" y="949.6" font-family="Liberation Mono" font-size="10" fill="#111" text-anchor="middle" font-weight="normal" textLength="18" lengthAdjust="spacingAndGlyphs" transform="translate(0 -123.45) scale(1 1.13)">CCI</text>
<text x="384.5" y="949.6" font-family="Liberation Mono" font-size="10" fill="#111" text-anchor="middle" font-weight="normal" textLength="18" lengthAdjust="spacingAndGlyphs" transform="translate(0 -123.45) scale(1 1.13)">KDJ</text>
<text x="421.5" y="949.6" font-family="Liberation Mono" font-size="10" fill="#111" text-anchor="middle" font-weight="normal" textLength="18" lengthAdjust="spacingAndGlyphs" transform="translate(0 -123.45) scale(1 1.13)">LW&amp;</text>
<text x="458.5" y="949.6" font-family="Liberation Mono" font-size="10" fill="#111" text-anchor="middle" font-weight="normal" textLength="18" lengthAdjust="spacingAndGlyphs" transform="translate(0 -123.45) scale(1 1.13)">RSI</text>
<text x="489.5" y="949.6" font-family="Liberation Mono" font-size="10" fill="#111" text-anchor="middle" font-weight="normal" textLength="12" lengthAdjust="spacingAndGlyphs" transform="translate(0 -123.45) scale(1 1.13)">CR</text>
<text x="520.5" y="949.6" font-family="Liberation Mono" font-size="10" fill="#111" text-anchor="middle" font-weight="normal" textLength="18" lengthAdjust="spacingAndGlyphs" transform="translate(0 -123.45) scale(1 1.13)">PSY</text>
<text x="545.5" y="951.2" font-family="'Liberation Sans','Noto Sans CJK SC',sans-serif" font-size="12" fill="#111" text-anchor="start">设置</text>
<rect x="736" y="955" width="180" height="8" fill="#b5b5bd" />
<path d="M814.5 961.5 L837.5 961.5 L826 956 Z" fill="#666"/>
<rect x="0" y="963" width="957" height="1" fill="#cdd3db" />
<rect x="40" y="963" width="1" height="7" fill="#cdd3db" />
<text x="6.3" y="976.2" font-family="'Liberation Sans','Noto Sans CJK SC',sans-serif" font-size="12" fill="#111" text-anchor="start">资讯</text>
<text x="828.3" y="945.9" font-family="Liberation Sans" font-size="30.5" textLength="101.5" lengthAdjust="spacingAndGlyphs" letter-spacing="2.6" fill="#c6ab9b">FX678</text>
<text x="827.5" y="945.1" font-family="Liberation Sans" font-size="30.5" textLength="101.5" lengthAdjust="spacingAndGlyphs" letter-spacing="2.6" fill="#dbe7f7">FX678</text>
<rect x="0" y="16" width="14" height="215" fill="#e1e2ea" />
<rect x="13" y="16" width="1" height="215" fill="#eaeaf1" />
<text x="2.9" y="35" font-family="'Liberation Sans','Noto Sans CJK SC',sans-serif" font-size="13" fill="#1a1e2c" text-anchor="middle">分</text>
<text x="2.9" y="49" font-family="'Liberation Sans','Noto Sans CJK SC',sans-serif" font-size="13" fill="#1a1e2c" text-anchor="middle">时</text>
<text x="2.9" y="63.3" font-family="'Liberation Sans','Noto Sans CJK SC',sans-serif" font-size="13" fill="#1a1e2c" text-anchor="middle">图</text>
<rect x="0" y="67" width="13" height="1" fill="#f0f0f6" />
<rect x="0" y="68" width="13" height="46" fill="#ff6600" />
<rect x="0" y="114" width="13" height="1" fill="#f0f0f6" />
<text x="0.6" y="83.2" font-family="Liberation Serif" font-size="11.5" fill="#fff" text-anchor="start" font-weight="normal" textLength="7" lengthAdjust="spacingAndGlyphs" >K</text>
<text x="2.9" y="98" font-family="'Liberation Sans','Noto Sans CJK SC',sans-serif" font-size="13" fill="#fff" text-anchor="middle">线</text>
<text x="2.9" y="112.2" font-family="'Liberation Sans','Noto Sans CJK SC',sans-serif" font-size="13" fill="#fff" text-anchor="middle">图</text>
<text x="2.9" y="132.4" font-family="'Liberation Sans','Noto Sans CJK SC',sans-serif" font-size="13" fill="#1a1e2c" text-anchor="middle">闪</text>
<text x="2.9" y="146.2" font-family="'Liberation Sans','Noto Sans CJK SC',sans-serif" font-size="13" fill="#1a1e2c" text-anchor="middle">电</text>
<text x="2.9" y="160.1" font-family="'Liberation Sans','Noto Sans CJK SC',sans-serif" font-size="13" fill="#1a1e2c" text-anchor="middle">图</text>
<rect x="0" y="165" width="13" height="1" fill="#f0f0f6" />
<text x="2.9" y="185.5" font-family="'Liberation Sans','Noto Sans CJK SC',sans-serif" font-size="13" fill="#1a1e2c" text-anchor="middle">合</text>
<text x="2.9" y="199.3" font-family="'Liberation Sans','Noto Sans CJK SC',sans-serif" font-size="13" fill="#1a1e2c" text-anchor="middle">约</text>
<text x="2.9" y="213" font-family="'Liberation Sans','Noto Sans CJK SC',sans-serif" font-size="13" fill="#1a1e2c" text-anchor="middle">资</text>
<text x="2.9" y="226.8" font-family="'Liberation Sans','Noto Sans CJK SC',sans-serif" font-size="13" fill="#1a1e2c" text-anchor="middle">料</text>
<rect x="0" y="0" width="957" height="16" fill="#eaeaf3" />
<rect x="0" y="16" width="957" height="1" fill="#cfcfd8" />
<rect x="64" y="0" width="1" height="17" fill="#f3f3f8" />
<rect x="65" y="0" width="1" height="17" fill="#cfcfd9" />
<rect x="135" y="0" width="1" height="17" fill="#f3f3f8" />
<rect x="136" y="0" width="1" height="17" fill="#cfcfd9" />
<rect x="202" y="0" width="1" height="17" fill="#f3f3f8" />
<rect x="203" y="0" width="1" height="17" fill="#cfcfd9" />
<rect x="249" y="0" width="1" height="17" fill="#f3f3f8" />
<rect x="250" y="0" width="1" height="17" fill="#cfcfd9" />
<rect x="296" y="0" width="1" height="17" fill="#f3f3f8" />
<rect x="297" y="0" width="1" height="17" fill="#cfcfd9" />
<rect x="343" y="0" width="1" height="17" fill="#f3f3f8" />
<rect x="344" y="0" width="1" height="17" fill="#cfcfd9" />
<rect x="390" y="0" width="1" height="17" fill="#f3f3f8" />
<rect x="391" y="0" width="1" height="17" fill="#cfcfd9" />
<rect x="418" y="0" width="1" height="17" fill="#f3f3f8" />
<rect x="419" y="0" width="1" height="17" fill="#cfcfd9" />
<rect x="446" y="0" width="1" height="17" fill="#f3f3f8" />
<rect x="447" y="0" width="1" height="17" fill="#cfcfd9" />
<rect x="474" y="0" width="1" height="17" fill="#f3f3f8" />
<rect x="475" y="0" width="1" height="17" fill="#cfcfd9" />
<rect x="502" y="0" width="1" height="17" fill="#f3f3f8" />
<rect x="503" y="0" width="1" height="17" fill="#cfcfd9" />
<rect x="530" y="0" width="1" height="17" fill="#f3f3f8" />
<rect x="531" y="0" width="1" height="17" fill="#cfcfd9" />
<rect x="558" y="0" width="1" height="17" fill="#f3f3f8" />
<rect x="559" y="0" width="1" height="17" fill="#cfcfd9" />
<rect x="586" y="0" width="1" height="17" fill="#f3f3f8" />
<rect x="587" y="0" width="1" height="17" fill="#cfcfd9" />
<rect x="614" y="0" width="1" height="17" fill="#f3f3f8" />
<rect x="615" y="0" width="1" height="17" fill="#cfcfd9" />
<rect x="642" y="0" width="1" height="17" fill="#f3f3f8" />
<rect x="643" y="0" width="1" height="17" fill="#cfcfd9" />
<rect x="670" y="0" width="1" height="17" fill="#f3f3f8" />
<rect x="671" y="0" width="1" height="17" fill="#cfcfd9" />
<rect x="741" y="0" width="1" height="17" fill="#f3f3f8" />
<rect x="742" y="0" width="1" height="17" fill="#cfcfd9" />
<rect x="769" y="0" width="1" height="17" fill="#f3f3f8" />
<rect x="770" y="0" width="1" height="17" fill="#cfcfd9" />
<rect x="816" y="0" width="1" height="17" fill="#f3f3f8" />
<rect x="817" y="0" width="1" height="17" fill="#cfcfd9" />
<rect x="863" y="0" width="1" height="17" fill="#f3f3f8" />
<rect x="864" y="0" width="1" height="17" fill="#cfcfd9" />
<rect x="910" y="0" width="1" height="17" fill="#f3f3f8" />
<rect x="911" y="0" width="1" height="17" fill="#cfcfd9" />
<rect x="938" y="0" width="1" height="17" fill="#f3f3f8" />
<rect x="939" y="0" width="1" height="17" fill="#cfcfd9" />
<text x="24.7" y="8.7" font-family="'Liberation Sans','Noto Sans CJK SC',sans-serif" font-size="12" fill="#3a3a42" text-anchor="start">返回</text>
<text x="96" y="8.7" font-family="'Liberation Sans','Noto Sans CJK SC',sans-serif" font-size="12" fill="#3a3a42" text-anchor="start">首页</text>
<path d="M8 2 L13 -3 L13 0 C19 0 22 3 22 9 C20 5 17 4 13 4 L13 7 Z" fill="#3a3a42"/>
<path d="M78.8 4.2 L85.6 -2.6 L92.4 4.2 L90.2 4.2 L90.2 9.4 L87.3 9.4 L87.3 5 L84.6 5 L84.6 9.4 L81 9.4 L81 4.2 Z" fill="#3a3a42"/>
<path d="M174.6 6.7 A6.3 6.3 0 1 1 175.1 -0.3" fill="none" stroke="#3a3a42" stroke-width="1.5"/>
<path d="M174.4 3 L179.4 3 L176.9 6.8 Z" fill="#3a3a42"/>
<rect x="217" y="7" width="2.7" height="3.5999999999999996" fill="#3a3a42" shape-rendering="auto"/>
<rect x="222" y="2.4" width="2.7" height="8.2" fill="#3a3a42" shape-rendering="auto"/>
<rect x="227.2" y="4.7" width="2.7" height="5.8999999999999995" fill="#3a3a42" shape-rendering="auto"/>
<rect x="232.2" y="-1" width="2.7" height="11.6" fill="#3a3a42" shape-rendering="auto"/>
<polyline points="217,5.8 224.5,-1.5 227.6,1.9 231,-2" fill="none" stroke="#3a3a42" stroke-width="1.3"/>
<rect x="263.1" y="-2" width="2.9" height="7.2" fill="#3a3a42" shape-rendering="auto"/>
<rect x="264.05" y="-4" width="1" height="11" fill="#3a3a42" shape-rendering="auto"/>
<rect x="268.9" y="-2" width="2.9" height="7.7" fill="#3a3a42" shape-rendering="auto"/>
<rect x="269.84999999999997" y="-4" width="1" height="14.5" fill="#3a3a42" shape-rendering="auto"/>
<rect x="274.4" y="1.9" width="2.9" height="4.699999999999999" fill="#3a3a42" shape-rendering="auto"/>
<rect x="275.34999999999997" y="-4" width="1" height="13.4" fill="#3a3a42" shape-rendering="auto"/>
<rect x="279.9" y="1.9" width="2.9" height="4.699999999999999" fill="#3a3a42" shape-rendering="auto"/>
<rect x="280.84999999999997" y="-4" width="1" height="13.4" fill="#3a3a42" shape-rendering="auto"/>
<text x="307.5" y="8.6" font-family="Liberation Sans" font-size="16" fill="#3a3a42" text-anchor="start" font-weight="normal" textLength="25.5" lengthAdjust="spacingAndGlyphs" >tick</text>
<text x="357.5" y="8.2" font-family="Liberation Sans" font-size="12" fill="#3a3a42" text-anchor="start" font-weight="normal" >5</text>
<text x="364.4" y="8.2" font-family="'Liberation Sans','Noto Sans CJK SC',sans-serif" font-size="12" fill="#3a3a42" text-anchor="start">日</text>
<text x="401.2" y="8.2" font-family="Liberation Sans" font-size="12" fill="#3a3a42" text-anchor="start" font-weight="normal" >5</text>
<text x="425.5" y="8.2" font-family="Liberation Sans" font-size="12" fill="#3a3a42" text-anchor="start" font-weight="normal" >15</text>
<text x="453.7" y="8.2" font-family="Liberation Sans" font-size="12" fill="#3a3a42" text-anchor="start" font-weight="normal" >30</text>
<text x="481.2" y="8.2" font-family="Liberation Sans" font-size="12" fill="#3a3a42" text-anchor="start" font-weight="normal" >60</text>
<text x="508.5" y="8.2" font-family="Liberation Sans" font-size="12" fill="#3a3a42" text-anchor="start" font-weight="normal" textLength="16.3" lengthAdjust="spacingAndGlyphs" >2H</text>
<text x="536.3" y="8.2" font-family="Liberation Sans" font-size="12" fill="#3a3a42" text-anchor="start" font-weight="normal" textLength="16" lengthAdjust="spacingAndGlyphs" >4H</text>
<text x="566.6" y="8.2" font-family="'Liberation Sans','Noto Sans CJK SC',sans-serif" font-size="12" fill="#3a3a42" text-anchor="start">日</text>
<text x="593.2" y="8.2" font-family="'Liberation Sans','Noto Sans CJK SC',sans-serif" font-size="12" fill="#3a3a42" text-anchor="start">周</text>
<text x="620.8" y="8.2" font-family="'Liberation Sans','Noto Sans CJK SC',sans-serif" font-size="12" fill="#3a3a42" text-anchor="start">月</text>
<text x="650.3" y="8.2" font-family="'Liberation Sans','Noto Sans CJK SC',sans-serif" font-size="12" fill="#3a3a42" text-anchor="start">年</text>
<rect x="684.5" y="2.4" width="14.6" height="2.4" rx="1.1" fill="#2c2c34" shape-rendering="auto"/><rect x="684.5" y="6.9" width="14.6" height="2.5" rx="1.1" fill="#2c2c34" shape-rendering="auto"/>
<text x="702.3" y="8.3" font-family="'Liberation Sans','Noto Sans CJK SC',sans-serif" font-size="12" fill="#3a3a42" text-anchor="start">更多</text>
<path d="M752.4 -1 L751.2 7.3 Q750.7 10.2 747.5 9.5 M749.1 1.6 H754.2 M756.2 3.2 L762.8 9.6 M762.8 3.2 L756.2 9.6" stroke="#2c2c34" stroke-width="1.9" fill="none"/>
<circle cx="793.2" cy="1.5" r="6.6" fill="none" stroke="#3a3a42" stroke-width="1.2"/>
<path d="M797.8 6.2 L801.3 10.2" stroke="#3a3a42" stroke-width="1.4"/>
<rect x="790" y="1.8" width="7" height="1" fill="#3a3a42" />
<circle cx="840.2" cy="1.8" r="6.6" fill="none" stroke="#3a3a42" stroke-width="1.2"/>
<path d="M844.8 6.5 L848.3 10.5" stroke="#3a3a42" stroke-width="1.4"/>
<rect x="837" y="2" width="7" height="1" fill="#3a3a42" />
<rect x="840" y="-2" width="1" height="7.5" fill="#3a3a42" />
<path d="M882.8 7.9 L883.9 4.7 L890.6 -2 L893 0.4 L886.2 7.1 Z" fill="#2c2c34"/>
<rect x="880" y="9.8" width="15" height="1.2" fill="#2c2c34" />
<path d="M915.3 11.6 L934 11.6 L924.6 -1.5 Z" fill="none" stroke="#4a4a52" stroke-width="1.2"/>
<path d="M945 0 L952.5 7.2 L960 0" fill="none" stroke="#4a4a52" stroke-width="1.2"/>
<rect x="943" y="11" width="14" height="1.2" fill="#4a4a52" />
</svg>
</body></html>
